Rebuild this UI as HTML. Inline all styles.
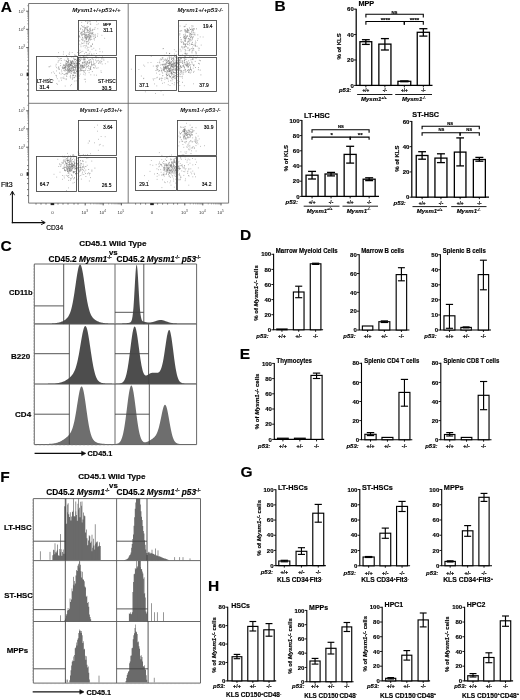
<!DOCTYPE html>
<html><head><meta charset="utf-8"><style>
html,body{margin:0;padding:0;background:#fff;width:520px;height:700px;overflow:hidden}
svg{display:block}
text{font-family:"Liberation Sans",sans-serif;stroke:#000;stroke-width:0.16px}
text[fill]{stroke:none}
.b{font-weight:bold}
.bi{font-weight:bold;font-style:italic}
.tk{font-weight:bold}
.xl{font-weight:bold}
.yl{font-weight:bold}
</style></head><body>
<svg width="520" height="700" viewBox="0 0 520 700">
<defs><filter id="bl" filterUnits="userSpaceOnUse" x="-5" y="-5" width="530" height="710"><feGaussianBlur stdDeviation="0.45"/></filter></defs>
<rect width="520" height="700" fill="#fff"/>
<g filter="url(#bl)">
<path d="M28.6 3.5H228.6V203.1H28.6Z" stroke="#6a6a6a" stroke-width="0.9" fill="none"/>
<path d="M28.6 103.3L228.6 103.3" stroke="#6a6a6a" stroke-width="0.9"/>
<path d="M128.2 3.5L128.2 203.1" stroke="#6a6a6a" stroke-width="0.9"/>
<path d="M26.2 11.2L28.6 11.2" stroke="#444" stroke-width="0.9"/>
<text x="25" y="12.8" font-size="4.4" text-anchor="end" fill="#333">10<tspan font-size="3.0" dy="-2.0">5</tspan></text>
<path d="M26.2 29.3L28.6 29.3" stroke="#444" stroke-width="0.9"/>
<text x="25" y="30.9" font-size="4.4" text-anchor="end" fill="#333">10<tspan font-size="3.0" dy="-2.0">4</tspan></text>
<path d="M26.2 47.6L28.6 47.6" stroke="#444" stroke-width="0.9"/>
<text x="25" y="49.2" font-size="4.4" text-anchor="end" fill="#333">10<tspan font-size="3.0" dy="-2.0">3</tspan></text>
<path d="M27.3 5.72L28.6 5.72" stroke="#777" stroke-width="0.7"/>
<path d="M27.3 23.82L28.6 23.82" stroke="#777" stroke-width="0.7"/>
<path d="M27.3 20.62L28.6 20.62" stroke="#777" stroke-width="0.7"/>
<path d="M27.3 18.34L28.6 18.34" stroke="#777" stroke-width="0.7"/>
<path d="M27.3 16.58L28.6 16.58" stroke="#777" stroke-width="0.7"/>
<path d="M27.3 15.14L28.6 15.14" stroke="#777" stroke-width="0.7"/>
<path d="M27.3 13.92L28.6 13.92" stroke="#777" stroke-width="0.7"/>
<path d="M27.3 12.86L28.6 12.86" stroke="#777" stroke-width="0.7"/>
<path d="M27.3 11.93L28.6 11.93" stroke="#777" stroke-width="0.7"/>
<path d="M27.3 42.12L28.6 42.12" stroke="#777" stroke-width="0.7"/>
<path d="M27.3 38.92L28.6 38.92" stroke="#777" stroke-width="0.7"/>
<path d="M27.3 36.64L28.6 36.64" stroke="#777" stroke-width="0.7"/>
<path d="M27.3 34.88L28.6 34.88" stroke="#777" stroke-width="0.7"/>
<path d="M27.3 33.44L28.6 33.44" stroke="#777" stroke-width="0.7"/>
<path d="M27.3 32.22L28.6 32.22" stroke="#777" stroke-width="0.7"/>
<path d="M27.3 31.16L28.6 31.16" stroke="#777" stroke-width="0.7"/>
<path d="M27.3 30.23L28.6 30.23" stroke="#777" stroke-width="0.7"/>
<path d="M27.3 60.32L28.6 60.32" stroke="#777" stroke-width="0.7"/>
<path d="M27.3 57.12L28.6 57.12" stroke="#777" stroke-width="0.7"/>
<path d="M27.3 54.84L28.6 54.84" stroke="#777" stroke-width="0.7"/>
<path d="M27.3 53.08L28.6 53.08" stroke="#777" stroke-width="0.7"/>
<path d="M27.3 51.64L28.6 51.64" stroke="#777" stroke-width="0.7"/>
<path d="M27.3 50.42L28.6 50.42" stroke="#777" stroke-width="0.7"/>
<path d="M27.3 49.36L28.6 49.36" stroke="#777" stroke-width="0.7"/>
<path d="M27.3 48.43L28.6 48.43" stroke="#777" stroke-width="0.7"/>
<path d="M27 66L28.6 66" stroke="#555" stroke-width="0.8"/>
<path d="M27 70L28.6 70" stroke="#555" stroke-width="0.8"/>
<path d="M27 74.5L28.6 74.5" stroke="#555" stroke-width="0.8"/>
<path d="M27 79L28.6 79" stroke="#555" stroke-width="0.8"/>
<path d="M27 84L28.6 84" stroke="#555" stroke-width="0.8"/>
<path d="M27 90L28.6 90" stroke="#555" stroke-width="0.8"/>
<path d="M27 96L28.6 96" stroke="#555" stroke-width="0.8"/>
<rect x="26.6" y="72.6" width="2" height="3.6" fill="#222"/>
<text x="22.8" y="76" font-size="4.4" text-anchor="end" fill="#333">0</text>
<path d="M26.2 110.8L28.6 110.8" stroke="#444" stroke-width="0.9"/>
<text x="25" y="112.4" font-size="4.4" text-anchor="end" fill="#333">10<tspan font-size="3.0" dy="-2.0">5</tspan></text>
<path d="M26.2 128.9L28.6 128.9" stroke="#444" stroke-width="0.9"/>
<text x="25" y="130.5" font-size="4.4" text-anchor="end" fill="#333">10<tspan font-size="3.0" dy="-2.0">4</tspan></text>
<path d="M26.2 147.2L28.6 147.2" stroke="#444" stroke-width="0.9"/>
<text x="25" y="148.8" font-size="4.4" text-anchor="end" fill="#333">10<tspan font-size="3.0" dy="-2.0">3</tspan></text>
<path d="M27.3 105.32L28.6 105.32" stroke="#777" stroke-width="0.7"/>
<path d="M27.3 123.42L28.6 123.42" stroke="#777" stroke-width="0.7"/>
<path d="M27.3 120.22L28.6 120.22" stroke="#777" stroke-width="0.7"/>
<path d="M27.3 117.94L28.6 117.94" stroke="#777" stroke-width="0.7"/>
<path d="M27.3 116.18L28.6 116.18" stroke="#777" stroke-width="0.7"/>
<path d="M27.3 114.74L28.6 114.74" stroke="#777" stroke-width="0.7"/>
<path d="M27.3 113.52L28.6 113.52" stroke="#777" stroke-width="0.7"/>
<path d="M27.3 112.46L28.6 112.46" stroke="#777" stroke-width="0.7"/>
<path d="M27.3 111.53L28.6 111.53" stroke="#777" stroke-width="0.7"/>
<path d="M27.3 141.72L28.6 141.72" stroke="#777" stroke-width="0.7"/>
<path d="M27.3 138.52L28.6 138.52" stroke="#777" stroke-width="0.7"/>
<path d="M27.3 136.24L28.6 136.24" stroke="#777" stroke-width="0.7"/>
<path d="M27.3 134.48L28.6 134.48" stroke="#777" stroke-width="0.7"/>
<path d="M27.3 133.04L28.6 133.04" stroke="#777" stroke-width="0.7"/>
<path d="M27.3 131.82L28.6 131.82" stroke="#777" stroke-width="0.7"/>
<path d="M27.3 130.76L28.6 130.76" stroke="#777" stroke-width="0.7"/>
<path d="M27.3 129.83L28.6 129.83" stroke="#777" stroke-width="0.7"/>
<path d="M27.3 159.92L28.6 159.92" stroke="#777" stroke-width="0.7"/>
<path d="M27.3 156.72L28.6 156.72" stroke="#777" stroke-width="0.7"/>
<path d="M27.3 154.44L28.6 154.44" stroke="#777" stroke-width="0.7"/>
<path d="M27.3 152.68L28.6 152.68" stroke="#777" stroke-width="0.7"/>
<path d="M27.3 151.24L28.6 151.24" stroke="#777" stroke-width="0.7"/>
<path d="M27.3 150.02L28.6 150.02" stroke="#777" stroke-width="0.7"/>
<path d="M27.3 148.96L28.6 148.96" stroke="#777" stroke-width="0.7"/>
<path d="M27.3 148.03L28.6 148.03" stroke="#777" stroke-width="0.7"/>
<path d="M27 165.6L28.6 165.6" stroke="#555" stroke-width="0.8"/>
<path d="M27 169.6L28.6 169.6" stroke="#555" stroke-width="0.8"/>
<path d="M27 174.1L28.6 174.1" stroke="#555" stroke-width="0.8"/>
<path d="M27 178.6L28.6 178.6" stroke="#555" stroke-width="0.8"/>
<path d="M27 183.6L28.6 183.6" stroke="#555" stroke-width="0.8"/>
<path d="M27 189.6L28.6 189.6" stroke="#555" stroke-width="0.8"/>
<path d="M27 195.6L28.6 195.6" stroke="#555" stroke-width="0.8"/>
<rect x="26.6" y="172.2" width="2" height="3.6" fill="#222"/>
<text x="22.8" y="175.6" font-size="4.4" text-anchor="end" fill="#333">0</text>
<path d="M85.2 203.1L85.2 205.4" stroke="#444" stroke-width="0.9"/>
<text x="84.7" y="213.8" font-size="4.4" text-anchor="middle" fill="#333">10<tspan font-size="3.0" dy="-2.0">3</tspan></text>
<path d="M103.2 203.1L103.2 205.4" stroke="#444" stroke-width="0.9"/>
<text x="102.7" y="213.8" font-size="4.4" text-anchor="middle" fill="#333">10<tspan font-size="3.0" dy="-2.0">4</tspan></text>
<path d="M121.4 203.1L121.4 205.4" stroke="#444" stroke-width="0.9"/>
<text x="120.9" y="213.8" font-size="4.4" text-anchor="middle" fill="#333">10<tspan font-size="3.0" dy="-2.0">5</tspan></text>
<text x="52.5" y="213.8" font-size="4.4" text-anchor="middle" fill="#333">0</text>
<path d="M36 203.1L36 204.6" stroke="#555" stroke-width="0.8"/>
<path d="M41 203.1L41 204.6" stroke="#555" stroke-width="0.8"/>
<path d="M46 203.1L46 204.6" stroke="#555" stroke-width="0.8"/>
<path d="M52.5 203.1L52.5 204.6" stroke="#555" stroke-width="0.8"/>
<path d="M58 203.1L58 204.6" stroke="#555" stroke-width="0.8"/>
<path d="M63 203.1L63 204.6" stroke="#555" stroke-width="0.8"/>
<path d="M68 203.1L68 204.6" stroke="#555" stroke-width="0.8"/>
<path d="M74 203.1L74 204.6" stroke="#555" stroke-width="0.8"/>
<path d="M78 203.1L78 204.6" stroke="#555" stroke-width="0.8"/>
<rect x="50.6" y="203.1" width="3.6" height="2" fill="#222"/>
<path d="M90.65 203.1L90.65 204.4" stroke="#777" stroke-width="0.7"/>
<path d="M93.84 203.1L93.84 204.4" stroke="#777" stroke-width="0.7"/>
<path d="M96.1 203.1L96.1 204.4" stroke="#777" stroke-width="0.7"/>
<path d="M97.85 203.1L97.85 204.4" stroke="#777" stroke-width="0.7"/>
<path d="M99.28 203.1L99.28 204.4" stroke="#777" stroke-width="0.7"/>
<path d="M100.5 203.1L100.5 204.4" stroke="#777" stroke-width="0.7"/>
<path d="M101.55 203.1L101.55 204.4" stroke="#777" stroke-width="0.7"/>
<path d="M102.47 203.1L102.47 204.4" stroke="#777" stroke-width="0.7"/>
<path d="M108.65 203.1L108.65 204.4" stroke="#777" stroke-width="0.7"/>
<path d="M111.84 203.1L111.84 204.4" stroke="#777" stroke-width="0.7"/>
<path d="M114.1 203.1L114.1 204.4" stroke="#777" stroke-width="0.7"/>
<path d="M115.85 203.1L115.85 204.4" stroke="#777" stroke-width="0.7"/>
<path d="M117.28 203.1L117.28 204.4" stroke="#777" stroke-width="0.7"/>
<path d="M118.5 203.1L118.5 204.4" stroke="#777" stroke-width="0.7"/>
<path d="M119.55 203.1L119.55 204.4" stroke="#777" stroke-width="0.7"/>
<path d="M120.47 203.1L120.47 204.4" stroke="#777" stroke-width="0.7"/>
<path d="M184.8 203.1L184.8 205.4" stroke="#444" stroke-width="0.9"/>
<text x="184.3" y="213.8" font-size="4.4" text-anchor="middle" fill="#333">10<tspan font-size="3.0" dy="-2.0">3</tspan></text>
<path d="M202.8 203.1L202.8 205.4" stroke="#444" stroke-width="0.9"/>
<text x="202.3" y="213.8" font-size="4.4" text-anchor="middle" fill="#333">10<tspan font-size="3.0" dy="-2.0">4</tspan></text>
<path d="M221 203.1L221 205.4" stroke="#444" stroke-width="0.9"/>
<text x="220.5" y="213.8" font-size="4.4" text-anchor="middle" fill="#333">10<tspan font-size="3.0" dy="-2.0">5</tspan></text>
<text x="152.1" y="213.8" font-size="4.4" text-anchor="middle" fill="#333">0</text>
<path d="M135.6 203.1L135.6 204.6" stroke="#555" stroke-width="0.8"/>
<path d="M140.6 203.1L140.6 204.6" stroke="#555" stroke-width="0.8"/>
<path d="M145.6 203.1L145.6 204.6" stroke="#555" stroke-width="0.8"/>
<path d="M152.1 203.1L152.1 204.6" stroke="#555" stroke-width="0.8"/>
<path d="M157.6 203.1L157.6 204.6" stroke="#555" stroke-width="0.8"/>
<path d="M162.6 203.1L162.6 204.6" stroke="#555" stroke-width="0.8"/>
<path d="M167.6 203.1L167.6 204.6" stroke="#555" stroke-width="0.8"/>
<path d="M173.6 203.1L173.6 204.6" stroke="#555" stroke-width="0.8"/>
<path d="M177.6 203.1L177.6 204.6" stroke="#555" stroke-width="0.8"/>
<rect x="150.2" y="203.1" width="3.6" height="2" fill="#222"/>
<path d="M190.25 203.1L190.25 204.4" stroke="#777" stroke-width="0.7"/>
<path d="M193.44 203.1L193.44 204.4" stroke="#777" stroke-width="0.7"/>
<path d="M195.7 203.1L195.7 204.4" stroke="#777" stroke-width="0.7"/>
<path d="M197.45 203.1L197.45 204.4" stroke="#777" stroke-width="0.7"/>
<path d="M198.88 203.1L198.88 204.4" stroke="#777" stroke-width="0.7"/>
<path d="M200.1 203.1L200.1 204.4" stroke="#777" stroke-width="0.7"/>
<path d="M201.15 203.1L201.15 204.4" stroke="#777" stroke-width="0.7"/>
<path d="M202.07 203.1L202.07 204.4" stroke="#777" stroke-width="0.7"/>
<path d="M208.25 203.1L208.25 204.4" stroke="#777" stroke-width="0.7"/>
<path d="M211.44 203.1L211.44 204.4" stroke="#777" stroke-width="0.7"/>
<path d="M213.7 203.1L213.7 204.4" stroke="#777" stroke-width="0.7"/>
<path d="M215.45 203.1L215.45 204.4" stroke="#777" stroke-width="0.7"/>
<path d="M216.88 203.1L216.88 204.4" stroke="#777" stroke-width="0.7"/>
<path d="M218.1 203.1L218.1 204.4" stroke="#777" stroke-width="0.7"/>
<path d="M219.15 203.1L219.15 204.4" stroke="#777" stroke-width="0.7"/>
<path d="M220.07 203.1L220.07 204.4" stroke="#777" stroke-width="0.7"/>
<path d="M81.4 35.0h.01M89.9 32.2h.01M81.5 32.8h.01M86.5 39.7h.01M83.1 26.8h.01M88.0 36.8h.01M90.3 39.9h.01M85.9 32.6h.01M95.1 34.4h.01M84.4 27.9h.01M86.2 34.8h.01M84.9 33.5h.01M86.2 37.6h.01M89.6 35.8h.01M79.2 36.2h.01M81.3 32.2h.01M80.9 33.0h.01M83.1 34.5h.01M97.4 36.1h.01M90.2 28.1h.01M84.4 37.0h.01M85.3 35.7h.01M87.4 29.1h.01M88.7 30.4h.01M92.9 32.8h.01M88.4 34.5h.01M89.9 31.7h.01M89.5 34.1h.01M89.7 37.9h.01M87.3 30.3h.01M88.2 36.8h.01M92.0 33.3h.01M87.4 36.9h.01M86.8 35.2h.01M87.2 31.2h.01M82.9 31.4h.01M86.5 41.8h.01M88.3 39.8h.01M88.0 38.0h.01M85.9 37.9h.01M92.4 33.6h.01M81.7 43.1h.01M85.9 38.9h.01M90.1 29.0h.01M92.6 44.4h.01M85.9 37.8h.01M87.3 29.8h.01M85.2 35.8h.01M89.1 38.3h.01M84.9 40.7h.01M82.6 37.4h.01M90.1 33.3h.01M80.8 28.3h.01M86.3 36.8h.01M92.3 30.2h.01M85.4 37.2h.01M87.8 22.3h.01M86.5 45.9h.01M90.4 30.2h.01M84.4 34.8h.01M93.9 38.8h.01M84.8 41.7h.01M83.9 43.1h.01M84.1 31.2h.01M87.1 41.5h.01M87.9 35.9h.01M80.5 29.2h.01M84.4 31.0h.01M88.3 32.8h.01M88.6 35.0h.01M84.7 34.3h.01M86.6 38.5h.01M84.6 32.5h.01M79.7 40.9h.01M91.2 34.1h.01M85.6 27.6h.01M86.4 35.1h.01M93.2 36.7h.01M85.8 21.5h.01M90.6 35.9h.01M80.3 33.8h.01M89.3 37.6h.01M87.5 23.4h.01M87.1 26.3h.01M90.2 23.9h.01M81.7 39.3h.01M92.8 29.4h.01M79.9 37.2h.01M89.9 29.8h.01M84.3 30.1h.01M82.6 29.8h.01M89.6 38.2h.01M93.1 35.0h.01M86.5 29.1h.01M86.9 27.5h.01M79.2 36.2h.01M90.1 39.1h.01M90.3 36.2h.01M83.5 33.9h.01M85.8 28.3h.01M81.7 25.6h.01M85.8 34.7h.01M83.0 40.7h.01M86.0 37.0h.01M91.0 30.8h.01M82.3 39.9h.01M86.2 39.2h.01M90.7 24.3h.01M89.1 31.2h.01M83.8 31.3h.01" stroke="#7a7a7a" stroke-width="0.75" stroke-linecap="round" opacity="1"/>
<path d="M90.9 46.7h.01M96.9 24.6h.01M86.3 43.2h.01M83.1 39.2h.01M87.6 47.2h.01M84.7 29.7h.01M80.4 52.5h.01M94.6 38.2h.01M89.1 39.3h.01M89.6 36.4h.01M88.3 26.5h.01M81.3 51.8h.01M91.0 39.2h.01M86.6 38.3h.01M91.2 32.7h.01M88.7 40.4h.01M85.0 30.1h.01M84.0 27.4h.01M87.5 32.3h.01M84.2 38.1h.01M94.5 40.0h.01M88.3 32.4h.01M85.6 45.9h.01M87.7 27.4h.01M82.5 26.7h.01M90.5 36.3h.01M97.8 33.9h.01M91.0 46.0h.01M81.7 22.4h.01M80.9 44.9h.01M97.8 28.7h.01M94.9 35.9h.01M86.7 32.7h.01M89.3 21.6h.01M84.3 25.9h.01M104.7 38.3h.01M92.7 32.3h.01M92.5 43.8h.01M79.4 31.4h.01M86.6 37.9h.01M89.4 35.2h.01M90.2 33.1h.01M80.0 50.3h.01M89.3 42.3h.01M95.1 27.6h.01M95.2 35.9h.01M90.6 37.3h.01M87.1 48.9h.01M82.8 51.3h.01M85.1 28.8h.01M94.1 29.4h.01M84.2 45.6h.01M98.3 23.8h.01M87.6 55.2h.01M95.5 37.3h.01M85.0 34.7h.01M81.7 34.3h.01M87.2 36.5h.01M95.4 37.4h.01M82.5 32.8h.01M87.8 34.8h.01M82.5 34.6h.01M101.9 35.3h.01M85.2 47.8h.01M91.0 45.6h.01M96.6 21.7h.01M82.7 38.1h.01M88.6 50.0h.01M91.2 36.5h.01M88.6 36.2h.01M88.2 44.2h.01M87.5 30.4h.01M81.0 46.7h.01M93.8 48.3h.01M91.5 46.4h.01M86.8 43.9h.01M82.2 35.0h.01M82.4 43.5h.01M84.8 36.4h.01M87.9 50.4h.01M85.0 28.8h.01M94.8 29.2h.01M91.7 33.5h.01M90.6 21.8h.01M93.1 34.4h.01M79.0 55.2h.01M91.0 35.4h.01M85.8 52.3h.01M87.0 41.9h.01M92.7 30.6h.01M89.7 33.7h.01M79.1 44.2h.01M91.8 39.5h.01M91.0 37.7h.01M79.1 36.0h.01M88.2 41.3h.01M89.0 39.8h.01M82.0 33.3h.01M85.4 35.3h.01M88.5 43.8h.01M90.7 36.7h.01M99.7 48.9h.01M83.2 46.1h.01M82.0 35.8h.01M87.4 37.0h.01M87.9 21.1h.01M88.9 47.4h.01M89.4 28.9h.01M88.2 43.2h.01M87.0 37.7h.01" stroke="#9a9a9a" stroke-width="0.75" stroke-linecap="round" opacity="1"/>
<path d="M76.4 60.6h.01M66.1 60.5h.01M66.8 65.2h.01M65.6 65.8h.01M79.4 63.6h.01M73.1 75.6h.01M68.7 60.5h.01M71.8 62.8h.01M77.4 59.8h.01M66.3 61.7h.01M70.3 63.0h.01M70.2 65.7h.01M69.2 71.5h.01M75.5 65.9h.01M65.4 64.2h.01M75.1 75.7h.01M67.9 64.7h.01M66.4 63.8h.01M66.1 67.7h.01M77.8 64.9h.01M66.7 61.6h.01M72.0 66.6h.01M63.9 64.7h.01M72.0 70.9h.01M74.2 66.9h.01M69.8 68.7h.01M73.5 75.3h.01M65.2 67.3h.01M76.7 64.1h.01M77.8 64.7h.01M71.3 65.4h.01M63.3 65.3h.01M82.3 66.2h.01M75.0 69.7h.01M74.9 70.1h.01M69.5 66.5h.01M75.3 64.2h.01M64.4 68.1h.01M69.1 70.1h.01M66.3 64.0h.01M71.2 73.4h.01M71.0 67.7h.01M71.4 68.1h.01M77.1 71.0h.01M64.8 74.6h.01M70.6 65.8h.01M82.3 62.8h.01M81.4 67.8h.01M66.7 70.4h.01M74.4 65.4h.01M59.5 69.1h.01M68.8 63.1h.01M79.4 63.4h.01M68.8 66.4h.01M66.3 65.2h.01M71.8 68.1h.01M68.5 67.4h.01M65.0 71.0h.01M67.7 68.9h.01M66.1 66.4h.01M70.6 62.1h.01M82.8 63.2h.01M69.8 64.3h.01M80.3 69.9h.01M70.8 61.3h.01M69.3 70.1h.01M67.2 63.2h.01M64.4 65.8h.01M70.3 64.5h.01M74.4 77.6h.01M78.2 60.4h.01M72.7 66.8h.01M71.6 71.2h.01M69.0 66.2h.01M69.1 67.2h.01M78.1 68.1h.01M64.1 67.3h.01M68.2 71.3h.01M73.1 70.1h.01M68.4 59.8h.01M73.4 67.2h.01M71.9 61.3h.01M70.6 64.3h.01M68.1 69.4h.01M71.6 63.1h.01M59.9 60.1h.01M69.6 72.1h.01M68.1 58.5h.01M67.4 69.9h.01M80.4 69.0h.01M73.0 67.2h.01M65.4 66.8h.01M68.5 64.5h.01M70.8 65.4h.01M74.3 72.0h.01M75.0 67.5h.01M68.1 61.5h.01M71.1 69.2h.01M67.7 73.3h.01M69.8 68.9h.01M67.9 62.7h.01M79.5 59.5h.01M74.7 63.5h.01M71.4 63.5h.01M70.1 71.1h.01M79.3 60.9h.01M72.2 70.6h.01M68.8 70.6h.01M68.0 70.5h.01M74.5 71.0h.01M71.3 61.9h.01M72.9 61.8h.01M76.4 71.7h.01M73.2 64.0h.01M76.9 65.9h.01M64.6 67.5h.01M77.4 63.7h.01M71.2 65.5h.01M62.3 67.5h.01M72.9 67.3h.01M67.6 59.1h.01M77.7 67.9h.01M77.4 70.5h.01M68.2 65.3h.01M74.5 72.9h.01M62.7 68.6h.01M68.2 70.2h.01M77.6 63.7h.01M65.1 69.0h.01M67.8 61.5h.01M74.6 63.7h.01M72.7 61.0h.01M74.5 59.9h.01M73.9 58.5h.01M77.1 63.5h.01M63.3 68.4h.01M71.4 62.7h.01M69.0 68.8h.01M66.6 55.5h.01M69.5 69.3h.01M73.6 70.4h.01M70.7 77.8h.01M75.2 67.0h.01M77.3 69.0h.01M70.8 64.5h.01M76.4 67.1h.01M60.7 65.6h.01M73.4 66.7h.01M73.1 69.0h.01M73.6 72.8h.01M67.7 66.3h.01M73.4 69.4h.01M76.5 71.5h.01M70.1 72.2h.01M72.0 62.3h.01M72.8 75.2h.01M74.2 64.0h.01M58.7 67.7h.01M67.7 68.3h.01M82.9 66.4h.01M71.4 63.0h.01M65.1 68.0h.01M72.3 79.2h.01M68.3 65.2h.01M76.5 65.6h.01M66.6 73.8h.01M67.9 62.4h.01M73.1 68.4h.01M70.2 70.2h.01M73.9 62.4h.01M58.3 60.9h.01M71.8 71.9h.01M77.4 70.8h.01M79.9 64.3h.01M74.2 59.6h.01M74.8 67.5h.01M70.0 65.4h.01M65.8 69.2h.01M76.7 63.7h.01M72.8 63.7h.01M71.0 62.8h.01M72.5 65.6h.01M71.8 64.2h.01M65.0 67.5h.01M77.8 71.5h.01M70.4 70.5h.01M75.1 67.4h.01M64.0 70.5h.01M67.8 72.9h.01M75.5 68.2h.01M59.6 73.1h.01M72.8 61.1h.01M75.7 65.9h.01M69.3 64.5h.01M65.6 66.8h.01M86.0 63.2h.01M71.2 64.2h.01M67.4 65.8h.01M67.8 71.7h.01M70.7 70.7h.01" stroke="#707070" stroke-width="0.75" stroke-linecap="round" opacity="1"/>
<path d="M62.1 77.9h.01M73.3 72.2h.01M68.8 60.6h.01M83.7 59.7h.01M68.4 60.7h.01M73.2 63.4h.01M75.8 68.7h.01M61.4 58.5h.01M78.7 72.6h.01M76.6 56.0h.01M79.3 68.0h.01M76.0 69.4h.01M69.1 69.7h.01M80.5 60.1h.01M56.6 70.9h.01M69.7 52.3h.01M66.3 73.7h.01M70.6 68.2h.01M60.9 78.0h.01M90.0 59.8h.01M61.6 60.5h.01M81.6 64.9h.01M66.5 78.9h.01M81.5 69.1h.01M53.3 71.9h.01M75.7 55.6h.01M85.1 74.9h.01M81.2 58.1h.01M66.8 76.5h.01M85.4 73.2h.01M84.4 62.3h.01M63.3 54.2h.01M85.6 81.8h.01M66.0 64.9h.01M79.7 67.7h.01M55.9 66.0h.01M65.2 86.0h.01M66.5 75.9h.01M96.6 75.2h.01M90.8 74.8h.01M58.2 68.4h.01M63.7 67.1h.01M74.9 55.7h.01M89.1 72.6h.01M71.5 84.5h.01M75.9 76.7h.01M73.9 61.7h.01M67.7 67.3h.01M78.8 66.0h.01M96.3 57.9h.01M65.4 63.0h.01M60.4 58.5h.01M63.8 77.1h.01M72.2 65.5h.01M78.2 74.0h.01M80.3 70.9h.01M65.5 66.8h.01M63.6 68.8h.01M62.5 66.8h.01M69.7 65.9h.01M68.0 64.1h.01M85.0 60.1h.01M61.8 71.8h.01M58.0 62.3h.01M68.9 54.0h.01M38.8 79.7h.01M78.9 50.9h.01M63.9 74.3h.01M49.1 66.8h.01M58.9 69.4h.01M53.4 80.3h.01M71.2 69.8h.01M63.5 51.9h.01M67.2 57.2h.01M70.1 60.5h.01M68.2 66.4h.01M81.9 70.4h.01M61.4 70.1h.01M88.5 66.0h.01M64.0 68.4h.01M70.6 75.3h.01M73.2 69.8h.01M92.0 49.3h.01M57.3 57.1h.01M57.3 78.7h.01M78.9 78.5h.01M49.2 66.7h.01M89.6 70.2h.01M83.4 70.8h.01M72.3 66.8h.01M74.3 73.3h.01M71.0 70.0h.01M84.6 53.7h.01M65.5 73.8h.01M68.9 66.7h.01M95.0 63.4h.01M70.2 76.7h.01M95.8 50.3h.01M65.2 70.1h.01M70.5 85.7h.01M76.6 62.2h.01M75.3 59.3h.01M65.9 69.8h.01M79.6 76.0h.01M84.3 79.3h.01M77.1 66.7h.01M68.6 60.9h.01M86.4 52.6h.01M69.5 63.4h.01M58.5 52.6h.01M68.3 69.3h.01M75.5 73.0h.01M68.8 62.6h.01M76.8 71.1h.01M58.9 58.3h.01M63.7 78.4h.01M80.4 57.0h.01M75.2 73.0h.01M84.4 57.6h.01M72.8 78.5h.01M101.0 70.9h.01M61.1 74.1h.01M68.7 67.5h.01M63.9 65.5h.01M76.2 80.8h.01M80.4 68.0h.01M70.5 61.2h.01M72.5 77.2h.01M85.4 79.3h.01M74.7 66.0h.01M55.9 75.3h.01M57.5 84.3h.01M65.4 69.1h.01M56.6 67.6h.01M64.9 78.7h.01M71.8 57.2h.01M51.5 72.8h.01M64.3 60.1h.01M77.8 63.7h.01M71.8 62.1h.01M64.9 65.3h.01M56.6 77.0h.01M72.2 52.5h.01M75.8 75.5h.01M77.6 76.1h.01M69.2 67.9h.01M56.2 64.3h.01M50.7 66.1h.01M75.8 70.2h.01M84.5 64.2h.01M62.6 73.5h.01M74.7 81.1h.01M94.8 68.0h.01M58.8 66.7h.01M72.3 60.9h.01M79.1 70.5h.01M81.3 66.0h.01M60.7 63.4h.01M73.8 77.5h.01M90.9 69.4h.01M77.4 71.0h.01M83.7 74.2h.01M77.4 52.5h.01M82.9 66.8h.01M68.4 72.5h.01M74.9 65.6h.01M54.5 73.3h.01M77.7 64.8h.01M56.4 75.7h.01M80.0 66.0h.01M75.6 62.9h.01M66.3 73.1h.01M68.7 69.5h.01M107.9 61.9h.01M69.6 54.2h.01M74.8 72.5h.01M64.0 67.5h.01M49.6 78.6h.01M67.4 74.2h.01M86.0 61.3h.01M82.9 65.7h.01M69.2 65.5h.01M66.1 79.6h.01M78.9 56.5h.01M79.1 58.7h.01M59.0 81.1h.01M61.4 80.2h.01M76.2 73.2h.01M80.1 74.2h.01M77.0 70.3h.01M77.2 74.6h.01M70.3 76.0h.01M87.7 61.6h.01M75.4 61.6h.01M69.6 69.9h.01M66.3 61.3h.01M72.1 68.6h.01M77.1 71.4h.01M56.7 83.6h.01M68.4 61.7h.01" stroke="#9a9a9a" stroke-width="0.75" stroke-linecap="round" opacity="1"/>
<path d="M83.8 65.2h.01M91.2 61.2h.01M86.9 55.0h.01M87.0 62.4h.01M83.4 67.4h.01M96.8 68.2h.01M81.3 70.6h.01M84.0 62.8h.01M82.5 65.3h.01M89.3 63.7h.01M84.7 62.3h.01M83.6 67.9h.01M82.9 62.3h.01M84.7 59.3h.01M84.6 55.7h.01M88.4 65.7h.01M84.2 70.8h.01M81.1 65.8h.01M88.9 60.3h.01M84.6 67.4h.01M86.4 64.4h.01M94.4 64.1h.01M76.0 59.3h.01M91.0 62.4h.01M79.6 53.2h.01M87.9 70.5h.01M78.5 52.2h.01M89.0 60.3h.01M84.2 61.4h.01M80.6 65.2h.01M91.5 64.8h.01M82.7 68.2h.01M85.3 65.9h.01M80.4 66.3h.01M90.4 69.4h.01M86.2 65.2h.01M82.6 67.4h.01M90.6 68.4h.01M83.7 56.9h.01M85.6 62.0h.01M81.6 66.0h.01M91.6 65.0h.01M92.6 65.0h.01M80.2 60.1h.01M83.9 66.4h.01M91.5 63.7h.01M92.0 58.9h.01M85.3 70.4h.01M88.6 68.2h.01M74.8 54.8h.01M80.9 68.0h.01M95.6 60.0h.01M80.2 58.0h.01M80.7 65.8h.01M84.2 72.3h.01M90.3 59.6h.01M87.4 62.3h.01M90.7 67.5h.01M84.0 67.4h.01M89.4 62.6h.01M87.5 66.4h.01M84.1 59.7h.01M93.5 63.0h.01M82.5 65.3h.01M77.3 63.3h.01M78.0 60.9h.01M75.5 59.5h.01M91.3 62.1h.01M78.9 71.6h.01M82.3 70.3h.01M82.9 55.8h.01M96.9 60.9h.01M90.5 68.9h.01M78.3 63.4h.01M82.6 66.0h.01M86.0 56.8h.01M86.4 66.8h.01M84.3 65.8h.01M82.9 62.8h.01M88.1 63.7h.01M93.5 67.7h.01M91.0 66.6h.01M87.0 57.3h.01M92.3 71.6h.01M87.4 61.8h.01M85.8 68.9h.01M87.7 58.2h.01M85.0 59.3h.01M84.9 58.7h.01M80.9 70.3h.01M92.2 55.2h.01M80.3 60.9h.01M83.8 56.3h.01M91.3 55.2h.01M90.1 66.4h.01M83.9 59.8h.01M86.4 63.8h.01M73.7 56.9h.01M89.2 62.5h.01M83.6 58.2h.01M81.9 59.3h.01M102.4 56.9h.01M95.0 65.4h.01M87.3 64.0h.01M83.8 70.9h.01M89.0 62.9h.01M85.3 64.0h.01M79.4 61.5h.01M82.4 66.1h.01M89.6 53.9h.01" stroke="#808080" stroke-width="0.75" stroke-linecap="round" opacity="1"/>
<path d="M95.5 66.8h.01M88.2 54.1h.01M103.9 60.3h.01M94.0 53.9h.01M98.2 57.8h.01M98.5 63.5h.01M101.9 59.1h.01M93.5 61.2h.01M96.4 62.1h.01M93.4 59.7h.01M93.0 57.6h.01M98.1 67.8h.01M93.4 64.5h.01M99.4 61.7h.01M101.7 57.8h.01M100.9 62.8h.01M73.2 63.1h.01M101.2 72.5h.01M89.8 61.6h.01M99.5 55.4h.01M105.3 63.7h.01M91.6 54.0h.01M94.2 75.0h.01M84.6 65.0h.01M96.3 57.3h.01M101.2 61.6h.01M99.0 62.6h.01M89.6 68.8h.01M93.9 67.7h.01M101.8 61.3h.01M98.0 60.8h.01M84.4 59.1h.01M100.0 51.6h.01M86.8 67.4h.01M102.6 51.9h.01M100.2 60.8h.01M103.8 59.1h.01M95.5 56.6h.01M98.3 60.3h.01M92.5 59.0h.01M91.9 64.7h.01M90.0 51.9h.01M90.4 67.4h.01M93.6 64.9h.01M102.1 58.0h.01M102.2 64.0h.01M96.7 56.9h.01M96.6 53.5h.01M95.1 57.6h.01M100.1 63.1h.01" stroke="#9a9a9a" stroke-width="0.75" stroke-linecap="round" opacity="1"/>
<path d="M184.8 40.6h.01M192.0 37.2h.01M184.9 38.5h.01M180.4 31.0h.01M187.6 48.0h.01M183.7 44.4h.01M193.7 48.6h.01M187.5 42.0h.01M188.1 32.3h.01M185.5 44.6h.01M191.2 34.9h.01M188.3 41.3h.01M190.0 36.2h.01M186.7 31.3h.01M187.2 32.5h.01M184.3 26.7h.01M192.3 30.1h.01M183.6 34.9h.01M191.4 44.4h.01M187.8 29.7h.01M187.3 30.3h.01M185.6 38.4h.01M185.3 30.7h.01M187.2 35.7h.01M186.3 30.9h.01M185.0 30.8h.01M190.1 35.0h.01M188.8 30.9h.01M181.0 41.7h.01M192.7 50.2h.01M185.4 35.7h.01M192.1 29.4h.01M194.8 33.0h.01M190.6 29.5h.01M189.3 36.2h.01M193.1 30.0h.01M185.8 46.7h.01M183.5 37.2h.01M190.1 33.4h.01M185.4 44.1h.01M191.2 40.1h.01M190.3 29.5h.01M186.2 46.6h.01M193.2 28.8h.01M181.7 30.7h.01M189.2 32.9h.01M186.5 37.8h.01M190.8 37.9h.01M194.0 28.5h.01M189.1 38.8h.01M181.4 42.3h.01M184.2 26.4h.01M195.6 45.5h.01M187.7 44.2h.01M193.3 30.2h.01M188.0 44.6h.01M187.4 36.3h.01M185.5 40.0h.01M186.8 32.2h.01M184.9 29.7h.01M188.2 38.9h.01M187.9 29.5h.01M188.7 38.4h.01M193.0 34.0h.01M186.0 38.7h.01M193.3 36.8h.01M188.8 30.4h.01M185.6 41.3h.01M189.6 43.2h.01M181.3 39.8h.01M184.1 38.9h.01M179.9 33.8h.01M183.4 42.9h.01M186.9 43.8h.01M184.1 47.3h.01M184.2 46.9h.01M187.5 29.9h.01M191.6 34.3h.01M189.4 28.0h.01M186.7 36.4h.01M185.1 37.8h.01M184.8 44.4h.01M187.6 31.9h.01M186.1 37.3h.01M190.6 33.7h.01M184.7 38.0h.01M193.0 26.2h.01M185.2 31.3h.01M192.4 44.5h.01M190.2 39.5h.01M182.8 41.9h.01M187.4 31.0h.01M196.5 28.8h.01M192.6 38.2h.01M184.6 36.4h.01M184.9 36.5h.01M187.2 28.5h.01M197.8 34.9h.01M191.5 36.4h.01M191.9 29.0h.01" stroke="#7a7a7a" stroke-width="0.75" stroke-linecap="round" opacity="1"/>
<path d="M195.2 46.2h.01M181.5 47.1h.01M189.8 49.5h.01M192.3 48.7h.01M190.6 37.3h.01M192.0 52.9h.01M185.1 29.5h.01M191.9 25.6h.01M193.5 48.8h.01M201.2 45.1h.01M203.1 37.0h.01M195.2 43.3h.01M183.4 37.1h.01M195.9 52.6h.01M185.8 50.5h.01M193.8 50.2h.01M191.2 44.1h.01M185.2 39.4h.01M192.1 34.6h.01M188.0 42.2h.01M189.4 50.7h.01M184.6 36.3h.01M192.3 38.0h.01M192.8 37.3h.01M197.5 40.4h.01M181.9 46.4h.01M203.4 25.9h.01M189.1 41.5h.01M193.5 55.7h.01M191.9 27.0h.01M192.2 50.9h.01M192.6 42.3h.01M185.6 26.2h.01M195.3 44.8h.01M193.4 45.1h.01M197.5 55.8h.01M184.9 49.3h.01M186.1 24.4h.01M198.0 38.7h.01M185.2 44.8h.01M191.1 34.1h.01M184.4 47.0h.01M184.3 41.1h.01M183.3 43.9h.01M199.6 48.3h.01M195.8 46.4h.01M184.9 37.2h.01M189.7 45.1h.01M185.3 45.8h.01M185.6 40.8h.01M192.0 30.8h.01M195.9 42.7h.01M190.7 40.9h.01M180.1 26.0h.01M182.9 48.8h.01M185.5 45.8h.01M185.4 32.3h.01M185.3 49.9h.01M180.5 37.5h.01M192.2 42.8h.01M188.5 48.0h.01M193.6 32.4h.01M195.2 34.9h.01M185.4 53.6h.01M194.0 34.7h.01M182.5 55.0h.01M194.5 29.1h.01M198.3 48.1h.01M197.1 46.3h.01M189.5 39.4h.01M200.2 36.9h.01M189.5 40.4h.01M191.4 31.7h.01M192.4 39.7h.01M193.1 31.9h.01M191.8 32.4h.01M183.4 42.8h.01M192.7 47.0h.01M190.5 37.6h.01M196.1 53.8h.01M188.2 30.6h.01M191.6 44.3h.01M179.1 31.1h.01M189.7 50.2h.01M179.8 35.0h.01M196.0 55.3h.01M188.5 41.1h.01M184.1 43.5h.01M180.9 39.7h.01M180.2 49.3h.01M195.8 51.5h.01M191.9 51.9h.01M190.0 49.1h.01M191.4 48.6h.01M185.2 34.0h.01M182.6 47.2h.01M194.4 34.7h.01M185.2 34.7h.01M195.4 41.1h.01M189.8 34.6h.01" stroke="#9a9a9a" stroke-width="0.75" stroke-linecap="round" opacity="1"/>
<path d="M171.8 74.9h.01M166.2 66.3h.01M179.3 68.0h.01M166.2 74.0h.01M164.8 71.6h.01M156.4 66.0h.01M173.6 62.8h.01M166.6 68.4h.01M169.4 64.8h.01M169.5 76.7h.01M177.7 66.4h.01M163.7 66.2h.01M169.4 69.8h.01M177.0 62.1h.01M170.1 64.7h.01M169.7 63.5h.01M173.6 72.0h.01M167.7 66.0h.01M168.6 60.5h.01M176.8 57.9h.01M167.0 63.3h.01M176.5 62.5h.01M170.4 76.9h.01M168.3 63.5h.01M170.3 68.0h.01M166.2 67.3h.01M170.1 70.8h.01M175.0 69.9h.01M170.6 71.0h.01M170.8 72.9h.01M171.4 64.4h.01M173.7 57.9h.01M164.2 64.6h.01M167.6 61.3h.01M161.5 59.7h.01M169.5 63.2h.01M181.7 67.5h.01M166.5 75.1h.01M172.2 72.0h.01M166.4 74.3h.01M174.7 63.4h.01M165.4 66.5h.01M174.9 78.2h.01M181.0 71.5h.01M168.5 65.8h.01M171.4 65.2h.01M167.5 66.7h.01M174.0 65.4h.01M170.8 65.4h.01M168.6 65.7h.01M176.5 66.3h.01M177.0 64.0h.01M173.1 58.8h.01M168.0 67.3h.01M166.8 67.4h.01M165.4 67.6h.01M166.8 68.0h.01M167.1 62.7h.01M168.1 67.8h.01M164.1 69.4h.01M175.7 64.1h.01M173.6 69.2h.01M168.2 74.6h.01M180.6 58.4h.01M179.3 60.4h.01M174.4 56.2h.01M175.7 66.0h.01M162.7 65.0h.01M163.7 64.3h.01M171.6 65.6h.01M157.5 69.3h.01M172.4 66.8h.01M175.4 55.7h.01M171.3 66.8h.01M171.5 59.5h.01M163.5 68.2h.01M167.7 58.2h.01M171.8 66.5h.01M169.7 53.4h.01M171.1 62.0h.01M168.9 71.5h.01M178.4 65.2h.01M171.5 73.5h.01M165.5 67.6h.01M166.2 63.1h.01M174.0 76.5h.01M172.0 69.1h.01M171.6 72.5h.01M169.6 62.5h.01M172.7 73.8h.01M171.4 72.9h.01M172.7 76.9h.01M172.4 69.8h.01M169.9 71.5h.01M166.8 60.3h.01M169.7 60.8h.01M178.3 68.6h.01M171.2 70.3h.01M159.9 78.3h.01M167.9 71.2h.01M180.0 55.5h.01M168.6 69.3h.01M169.6 58.3h.01M167.8 75.6h.01M168.0 70.6h.01M162.1 64.7h.01M161.7 71.0h.01M175.7 65.8h.01M169.1 68.6h.01M171.9 64.9h.01M175.6 75.6h.01M179.9 61.0h.01M166.8 78.1h.01M176.6 71.4h.01M172.6 65.0h.01M176.4 71.0h.01M174.1 60.1h.01M174.5 63.8h.01M168.9 69.3h.01M171.8 78.7h.01M173.2 67.5h.01M169.5 68.5h.01M169.8 70.2h.01M175.5 69.8h.01M163.5 67.3h.01M168.6 61.0h.01M171.7 65.8h.01M170.9 68.8h.01M169.4 75.4h.01M174.2 62.9h.01M173.4 69.9h.01M165.9 66.5h.01M169.6 53.6h.01M164.2 70.6h.01M171.7 61.7h.01M177.5 76.4h.01M171.0 66.5h.01M168.9 62.1h.01M173.0 67.1h.01M175.8 72.8h.01M170.5 67.9h.01M174.2 74.9h.01M163.1 69.2h.01M167.2 68.6h.01M174.2 66.1h.01M173.9 66.8h.01M165.7 64.9h.01M163.8 70.2h.01M169.4 71.7h.01M173.4 61.3h.01M165.8 71.6h.01M166.2 69.3h.01M172.4 64.3h.01M177.5 60.7h.01M171.5 64.4h.01M156.0 70.5h.01M170.2 70.1h.01M168.4 63.7h.01M167.1 66.3h.01M173.3 64.6h.01M177.3 69.3h.01M168.0 73.1h.01M159.3 70.5h.01M165.2 68.0h.01M175.6 65.3h.01M171.2 73.4h.01M165.2 64.2h.01M175.7 68.5h.01M163.4 69.9h.01M173.6 65.1h.01M168.3 68.3h.01M170.1 63.3h.01M171.7 58.2h.01M172.9 77.4h.01M164.9 68.4h.01M157.9 66.4h.01M164.6 69.0h.01M170.4 76.6h.01M165.6 68.3h.01M172.1 69.8h.01M172.0 58.2h.01M180.1 62.3h.01M164.2 60.2h.01M165.3 59.2h.01M170.1 63.9h.01M170.5 62.8h.01M173.7 77.6h.01M175.9 66.1h.01M167.5 75.5h.01M159.8 62.8h.01M175.4 62.2h.01M177.4 67.8h.01M183.1 72.4h.01M171.9 63.1h.01M175.0 72.9h.01M166.4 53.0h.01M167.7 65.8h.01M169.3 65.4h.01M173.6 59.3h.01M169.2 56.9h.01M158.1 65.4h.01M165.1 63.8h.01M167.6 71.0h.01M172.9 66.5h.01M170.0 63.4h.01M163.2 61.7h.01M166.4 62.2h.01M169.5 71.0h.01M174.6 72.6h.01M162.3 57.9h.01M167.7 78.2h.01M172.7 63.9h.01M175.7 63.1h.01M177.4 62.6h.01M169.1 70.9h.01M164.3 67.9h.01M179.9 66.2h.01M164.4 67.4h.01M168.8 63.4h.01M173.8 72.4h.01" stroke="#707070" stroke-width="0.75" stroke-linecap="round" opacity="1"/>
<path d="M174.2 76.7h.01M175.7 69.5h.01M164.9 79.3h.01M187.1 61.8h.01M162.6 75.7h.01M175.2 78.7h.01M177.6 66.7h.01M156.8 77.8h.01M170.9 57.6h.01M151.2 56.4h.01M178.5 63.7h.01M131.3 69.2h.01M164.3 69.5h.01M171.8 65.9h.01M182.6 76.3h.01M172.2 83.5h.01M168.9 61.6h.01M171.2 56.0h.01M166.6 60.3h.01M167.3 71.8h.01M143.8 78.3h.01M174.7 66.4h.01M181.0 70.3h.01M165.9 61.0h.01M182.0 73.9h.01M153.3 66.1h.01M159.5 79.1h.01M163.0 59.3h.01M190.5 69.4h.01M175.2 70.6h.01M169.9 69.7h.01M183.3 70.8h.01M166.7 70.9h.01M193.0 59.6h.01M156.6 73.1h.01M163.2 94.9h.01M180.3 72.7h.01M179.8 85.5h.01M159.8 70.9h.01M154.5 83.9h.01M174.2 84.8h.01M166.8 60.4h.01M165.0 77.8h.01M162.7 73.2h.01M162.1 64.4h.01M168.2 84.7h.01M159.8 74.4h.01M180.1 60.4h.01M156.8 85.9h.01M192.0 62.6h.01M159.3 79.5h.01M169.9 61.7h.01M163.0 48.7h.01M160.0 60.1h.01M157.3 77.3h.01M178.1 83.3h.01M138.9 69.5h.01M164.3 82.7h.01M184.3 67.5h.01M171.6 62.0h.01M164.9 66.2h.01M145.3 91.8h.01M184.3 85.7h.01M187.3 70.3h.01M178.6 51.9h.01M161.3 78.9h.01M164.4 55.4h.01M169.3 57.5h.01M174.6 82.8h.01M157.5 67.6h.01M178.3 67.3h.01M172.4 60.9h.01M163.4 48.5h.01M172.0 80.8h.01M158.1 69.9h.01M182.4 78.1h.01M184.0 58.2h.01M170.0 85.5h.01M166.7 72.6h.01M160.5 65.0h.01M135.4 71.1h.01M143.7 65.1h.01M162.5 83.3h.01M181.5 70.6h.01M163.0 57.7h.01M175.9 60.3h.01M172.0 77.6h.01M169.4 69.1h.01M161.7 80.6h.01M179.3 73.9h.01M188.1 50.4h.01M173.1 74.5h.01M176.2 70.8h.01M174.5 54.0h.01M172.8 79.4h.01M170.7 67.2h.01M178.6 51.2h.01M179.1 81.5h.01M167.1 62.1h.01M177.1 63.5h.01M162.2 72.3h.01M153.1 78.8h.01M156.4 66.8h.01M180.2 66.8h.01M177.2 80.5h.01M193.5 83.8h.01M166.7 78.4h.01M153.4 80.0h.01M185.9 59.2h.01M178.7 75.2h.01M168.6 63.5h.01M187.2 53.4h.01M175.3 77.0h.01M177.3 82.4h.01M190.2 69.5h.01M194.1 71.3h.01M156.4 68.9h.01M175.2 69.9h.01M155.6 93.5h.01M151.0 62.5h.01M177.4 69.5h.01M190.4 67.1h.01M177.5 74.5h.01M160.6 59.0h.01M168.0 79.1h.01M170.6 80.7h.01M166.5 76.9h.01M173.6 76.3h.01M172.2 70.6h.01M168.4 81.2h.01M172.2 73.4h.01M177.9 59.3h.01M161.7 70.5h.01M185.0 56.3h.01M157.8 62.5h.01M165.1 60.3h.01M162.9 75.6h.01M158.7 71.4h.01M157.3 69.9h.01M174.3 49.7h.01M172.8 70.8h.01M171.5 71.3h.01M174.3 56.3h.01M171.4 74.9h.01M184.7 53.6h.01M162.2 58.1h.01M169.6 59.4h.01M161.4 78.1h.01M194.7 45.1h.01M189.7 56.7h.01M180.5 70.4h.01M186.1 64.1h.01M161.8 70.3h.01M179.5 59.0h.01M176.6 67.8h.01M173.9 68.5h.01M180.4 74.6h.01M167.7 66.5h.01M144.7 66.2h.01M154.9 78.6h.01M157.7 65.3h.01M179.9 76.5h.01M184.7 58.4h.01M176.6 77.9h.01M161.3 68.9h.01M156.1 66.1h.01M180.4 68.0h.01M166.4 64.8h.01M191.2 72.0h.01M161.0 91.2h.01M166.6 68.6h.01M165.0 65.0h.01M176.8 54.5h.01M171.6 65.9h.01M193.2 68.2h.01M177.9 72.6h.01M179.1 68.6h.01M143.5 78.6h.01M169.3 76.0h.01M174.5 63.3h.01M159.4 62.0h.01M175.0 67.3h.01M160.7 67.8h.01M174.8 62.2h.01M169.2 63.8h.01M141.3 76.0h.01M174.0 76.0h.01M186.0 59.4h.01M179.4 69.9h.01M174.3 76.1h.01M179.9 55.6h.01M189.0 63.8h.01M162.7 64.4h.01M167.2 59.5h.01M185.5 70.1h.01M162.7 78.4h.01M174.8 69.1h.01M183.1 65.8h.01M169.7 74.0h.01M148.0 62.7h.01" stroke="#9a9a9a" stroke-width="0.75" stroke-linecap="round" opacity="1"/>
<path d="M189.5 70.4h.01M174.1 64.0h.01M181.3 62.2h.01M190.2 73.0h.01M198.3 69.7h.01M190.4 64.8h.01M172.8 66.3h.01M177.5 57.2h.01M186.8 54.4h.01M198.4 67.6h.01M188.5 66.9h.01M187.6 64.3h.01M190.9 59.9h.01M187.9 65.0h.01M191.4 57.3h.01M187.7 63.2h.01M190.4 67.2h.01M187.2 66.7h.01M189.1 72.2h.01M188.1 67.2h.01M179.4 62.7h.01M191.3 70.3h.01M179.1 63.7h.01M184.0 64.3h.01M182.6 61.4h.01M185.5 64.7h.01M193.1 58.8h.01M179.2 68.7h.01M189.5 62.8h.01M177.8 70.3h.01M178.4 70.8h.01M187.7 63.1h.01M184.7 68.9h.01M186.0 53.5h.01M181.0 51.0h.01M188.8 69.5h.01M193.2 55.8h.01M200.9 74.9h.01M185.2 52.0h.01M179.8 70.2h.01M200.5 60.7h.01M173.0 58.1h.01M199.4 63.9h.01M176.1 51.3h.01M190.4 68.8h.01M182.6 62.8h.01M186.5 61.9h.01M182.1 60.5h.01M181.8 71.4h.01M188.7 70.1h.01M198.9 50.2h.01M185.5 69.7h.01M184.4 60.3h.01M188.7 60.8h.01M180.0 62.1h.01M186.3 64.0h.01M192.2 64.1h.01M182.6 82.3h.01M184.3 62.3h.01M184.9 59.7h.01M174.9 65.1h.01M196.2 53.0h.01M180.6 66.5h.01M181.2 67.1h.01M185.6 57.3h.01M184.4 60.8h.01M188.8 71.9h.01M187.0 65.4h.01M182.2 66.0h.01M184.9 56.2h.01M189.0 65.0h.01M193.6 65.5h.01M190.8 55.9h.01M172.8 60.5h.01M183.6 66.1h.01M185.0 62.9h.01M186.2 65.5h.01M187.3 65.9h.01M182.4 63.4h.01M175.6 57.2h.01M184.0 66.5h.01M180.6 55.5h.01M192.6 58.9h.01M173.9 58.1h.01M183.2 74.1h.01M180.7 59.0h.01M193.9 64.5h.01M185.2 72.1h.01M177.6 63.6h.01M189.5 65.2h.01M177.7 58.3h.01M198.4 63.4h.01M184.1 70.4h.01M173.4 63.6h.01M173.6 72.3h.01M179.0 64.6h.01M179.5 64.7h.01M188.2 64.0h.01M183.7 65.4h.01M184.2 60.9h.01M190.3 69.1h.01M176.5 57.9h.01M180.5 65.7h.01M176.1 73.3h.01M186.2 64.9h.01M192.1 59.5h.01M188.6 66.4h.01M195.0 57.7h.01M195.6 67.5h.01M187.7 70.4h.01M184.2 62.8h.01M191.8 61.9h.01M193.5 72.2h.01M187.5 65.0h.01M181.4 58.5h.01M196.0 57.8h.01M186.6 65.8h.01M179.7 59.9h.01M181.1 76.7h.01M188.6 72.3h.01M200.2 70.1h.01M195.2 61.4h.01M181.2 72.7h.01M196.2 57.9h.01M194.0 65.8h.01M191.6 69.8h.01M199.3 60.3h.01M186.1 71.6h.01M184.3 67.3h.01M185.5 53.9h.01" stroke="#808080" stroke-width="0.75" stroke-linecap="round" opacity="1"/>
<path d="M70.0 170.6h.01M64.8 161.0h.01M68.5 167.4h.01M72.5 166.4h.01M69.7 160.9h.01M66.3 164.2h.01M69.5 168.6h.01M74.3 162.6h.01M76.2 168.4h.01M64.3 165.0h.01M67.7 160.3h.01M72.6 155.1h.01M67.5 171.5h.01M69.0 170.3h.01M68.9 172.1h.01M69.6 170.0h.01M70.4 158.2h.01M63.3 160.8h.01M68.2 171.8h.01M71.9 169.5h.01M77.4 167.4h.01M71.8 163.0h.01M69.5 168.1h.01M75.5 168.7h.01M70.6 164.3h.01M73.5 172.8h.01M75.5 173.4h.01M69.6 170.9h.01M72.6 168.6h.01M68.3 168.8h.01M69.4 165.1h.01M63.0 162.8h.01M70.2 168.9h.01M71.6 166.5h.01M68.4 160.1h.01M74.1 164.3h.01M66.4 165.4h.01M74.1 164.9h.01M68.9 177.5h.01M68.7 175.7h.01M71.0 160.5h.01M77.3 168.7h.01M75.3 166.6h.01M71.8 166.3h.01M68.9 168.2h.01M74.5 163.2h.01M73.8 156.2h.01M67.1 160.2h.01M64.6 170.4h.01M67.9 164.5h.01M66.0 167.2h.01M64.1 168.4h.01M65.7 162.2h.01M67.7 158.0h.01M72.3 166.3h.01M72.4 165.6h.01M72.4 163.5h.01M67.3 169.6h.01M66.7 166.2h.01M68.7 162.2h.01M70.4 158.2h.01M74.4 163.6h.01M78.5 167.2h.01M73.2 165.9h.01M67.7 160.5h.01M66.3 163.5h.01M67.5 166.9h.01M67.8 168.2h.01M68.3 164.7h.01M72.6 167.2h.01M64.9 167.4h.01M80.5 160.6h.01M69.9 161.7h.01M76.9 170.3h.01M72.0 164.5h.01M66.3 158.6h.01M71.6 163.8h.01M72.4 166.8h.01M75.5 173.9h.01M72.0 161.8h.01M73.7 167.4h.01M73.4 171.5h.01M65.2 159.9h.01M67.3 169.6h.01M67.1 168.6h.01M65.8 170.5h.01M67.4 163.0h.01M67.7 166.1h.01M73.9 165.3h.01M69.9 167.1h.01M74.3 166.2h.01M74.8 159.9h.01M73.4 165.0h.01M69.3 169.6h.01M75.2 168.3h.01M70.0 161.7h.01M71.6 167.3h.01M76.3 163.4h.01M74.1 171.9h.01M69.5 164.2h.01M72.9 168.6h.01M67.2 159.2h.01M71.0 170.8h.01M69.5 170.9h.01M69.1 162.6h.01M68.4 156.2h.01M59.6 164.0h.01M71.5 164.0h.01M72.3 164.6h.01M69.6 163.8h.01M71.0 170.7h.01M70.1 159.4h.01M76.6 172.9h.01M70.9 161.0h.01M73.3 165.5h.01M71.2 170.5h.01M73.4 161.7h.01M69.8 164.3h.01M73.7 172.3h.01M69.9 169.1h.01M71.3 165.9h.01M67.7 170.7h.01M68.0 171.0h.01M70.2 166.8h.01M66.8 163.6h.01M66.7 168.1h.01M70.6 167.4h.01M70.9 169.6h.01M71.0 166.3h.01M69.4 166.5h.01M71.0 162.1h.01M66.9 169.9h.01M71.8 165.4h.01M68.3 160.5h.01M66.9 167.9h.01M67.5 161.3h.01M67.8 157.8h.01M72.3 159.6h.01M66.1 163.1h.01M64.9 167.4h.01M63.0 168.3h.01M70.2 164.6h.01M67.1 160.5h.01M61.0 164.4h.01M74.5 165.3h.01M67.6 176.1h.01M74.7 169.1h.01M76.5 169.2h.01M64.5 169.6h.01M71.6 175.1h.01" stroke="#707070" stroke-width="0.75" stroke-linecap="round" opacity="1"/>
<path d="M76.1 165.5h.01M62.6 156.3h.01M69.3 162.6h.01M83.2 167.4h.01M69.5 166.0h.01M77.3 160.7h.01M79.6 165.2h.01M70.6 171.4h.01M78.2 151.8h.01M79.0 169.7h.01M74.4 177.9h.01M77.8 168.9h.01M66.3 175.4h.01M64.1 176.0h.01M83.3 154.5h.01M78.6 155.6h.01M74.2 172.2h.01M62.4 175.5h.01M64.0 167.3h.01M76.9 164.4h.01M74.2 166.7h.01M79.1 176.1h.01M71.3 165.9h.01M73.9 172.3h.01M67.4 153.4h.01M72.3 171.0h.01M87.5 154.6h.01M65.6 162.1h.01M65.0 157.6h.01M65.3 170.8h.01M60.0 172.2h.01M70.8 178.3h.01M89.4 174.9h.01M74.5 171.6h.01M85.6 155.2h.01M80.1 156.1h.01M73.5 154.6h.01M67.9 168.4h.01M63.1 157.2h.01M71.2 165.8h.01M83.6 166.0h.01M56.7 177.1h.01M78.4 163.4h.01M61.9 162.4h.01M65.7 163.8h.01M68.4 167.2h.01M76.9 157.2h.01M70.0 160.1h.01M76.7 173.3h.01M63.4 163.0h.01M71.7 168.1h.01M68.3 173.1h.01M74.1 171.9h.01M64.3 177.9h.01M77.4 158.3h.01M85.9 162.0h.01M58.7 166.5h.01M64.0 166.9h.01M70.7 170.8h.01M68.8 166.9h.01M57.8 159.3h.01M62.3 163.3h.01M70.0 168.9h.01M60.3 166.4h.01M73.8 158.1h.01M70.8 168.7h.01M71.7 157.9h.01M80.0 162.1h.01M73.7 155.6h.01M78.6 163.3h.01M74.6 161.2h.01M77.4 165.0h.01M66.4 190.5h.01M68.2 173.4h.01M68.4 166.0h.01M71.8 175.1h.01M80.9 170.2h.01M62.6 179.3h.01M68.5 187.9h.01M77.8 173.5h.01M71.7 168.9h.01M73.0 183.0h.01M72.7 176.0h.01M65.1 170.3h.01M68.2 168.9h.01M69.9 173.9h.01M70.5 155.7h.01M63.8 161.7h.01M74.6 156.3h.01M75.1 167.2h.01M64.4 156.3h.01M82.7 160.7h.01M79.6 171.9h.01M61.0 165.8h.01M89.9 173.4h.01M65.3 170.7h.01M77.5 163.5h.01M82.6 166.7h.01M73.1 172.5h.01M72.2 177.6h.01M71.1 178.6h.01M78.3 152.5h.01M77.0 179.6h.01M81.2 168.1h.01M74.6 167.7h.01M73.9 165.1h.01M65.2 161.6h.01M83.5 161.3h.01M87.2 165.3h.01M70.9 159.6h.01M69.7 169.3h.01M69.5 166.7h.01M54.0 174.3h.01M68.0 166.1h.01M63.9 159.7h.01M70.3 180.4h.01M63.0 168.5h.01M65.0 170.2h.01M74.4 182.4h.01M68.6 180.4h.01" stroke="#9a9a9a" stroke-width="0.75" stroke-linecap="round" opacity="1"/>
<path d="M79.8 170.9h.01M94.9 168.1h.01M80.5 166.9h.01M82.8 169.6h.01M76.7 162.6h.01M86.0 166.6h.01M82.4 172.2h.01M82.7 169.2h.01M76.8 168.2h.01M73.7 178.9h.01M78.3 178.4h.01M79.7 167.4h.01M88.7 169.5h.01M83.1 166.6h.01M80.9 163.8h.01M78.4 157.5h.01M81.5 163.6h.01M89.3 181.0h.01M91.8 161.1h.01M80.4 167.5h.01M74.5 177.7h.01M85.8 170.1h.01M91.9 171.2h.01M80.7 170.0h.01M79.9 171.2h.01M75.7 171.4h.01M80.8 165.7h.01M80.3 167.6h.01M73.5 171.9h.01M81.3 179.1h.01M82.2 174.0h.01M82.1 167.5h.01M76.2 165.5h.01M79.3 153.8h.01M80.8 164.0h.01M83.8 174.5h.01M80.8 175.5h.01M88.5 172.9h.01M80.6 169.0h.01M90.5 177.6h.01M88.0 157.9h.01M70.9 179.1h.01M85.9 176.5h.01M85.2 166.5h.01M84.6 168.1h.01M89.8 173.4h.01M77.5 163.8h.01M87.4 173.7h.01M83.7 170.4h.01M76.0 163.2h.01M84.9 157.3h.01M84.8 171.9h.01M85.6 173.5h.01M91.9 170.1h.01M78.2 158.1h.01M71.0 169.0h.01M86.8 158.3h.01M83.2 164.1h.01M81.0 169.7h.01M82.5 161.2h.01" stroke="#8a8a8a" stroke-width="0.75" stroke-linecap="round" opacity="1"/>
<path d="M98.6 139.3h.01M105.2 136.7h.01M105.4 124.7h.01M90.5 153.7h.01M103.1 145.8h.01M101.1 136.5h.01M98.3 150.3h.01M100.2 144.4h.01M99.3 145.0h.01M97.4 125.1h.01M97.4 131.2h.01M89.5 141.2h.01M94.5 127.4h.01M88.2 143.1h.01M89.2 140.9h.01M94.4 142.8h.01" stroke="#9a9a9a" stroke-width="0.75" stroke-linecap="round" opacity="1"/>
<path d="M184.4 133.3h.01M188.9 130.1h.01M189.3 131.1h.01M186.6 135.3h.01M189.0 130.4h.01M184.5 129.0h.01M187.7 134.1h.01M180.3 133.8h.01M190.0 132.8h.01M185.7 133.9h.01M183.6 131.1h.01M188.0 132.7h.01M186.0 133.5h.01M190.8 135.5h.01M187.5 132.2h.01M189.6 134.5h.01M184.9 137.0h.01M190.8 131.7h.01M184.1 136.6h.01M183.4 137.3h.01M183.9 138.7h.01M185.1 126.7h.01M180.2 137.6h.01M184.4 131.3h.01M185.1 130.6h.01M186.5 133.7h.01M184.8 131.1h.01M189.1 137.2h.01M187.9 137.7h.01M184.8 135.6h.01M191.6 132.3h.01M192.2 127.3h.01M181.9 127.3h.01M184.1 129.5h.01M184.0 135.1h.01M184.3 131.5h.01M183.8 127.4h.01M186.2 130.9h.01M188.6 134.3h.01M180.2 133.7h.01M183.0 131.0h.01M183.8 129.9h.01M185.4 129.2h.01M184.2 131.7h.01M187.5 135.8h.01M192.7 130.1h.01M183.9 136.3h.01M183.0 131.7h.01M186.8 138.2h.01M187.4 134.6h.01M185.1 134.8h.01M186.1 134.2h.01M184.3 132.2h.01M184.5 129.2h.01M184.4 130.0h.01M184.7 130.9h.01M181.4 132.7h.01M185.6 137.9h.01M180.6 127.0h.01M184.1 129.8h.01" stroke="#707070" stroke-width="0.75" stroke-linecap="round" opacity="1"/>
<path d="M191.5 133.9h.01M182.9 144.5h.01M191.9 127.6h.01M196.0 141.1h.01M197.1 142.2h.01M186.5 141.6h.01M196.3 143.5h.01M190.6 129.2h.01M192.7 132.4h.01M191.8 129.5h.01M186.4 131.3h.01M188.0 130.4h.01M194.3 148.4h.01M189.7 131.7h.01M196.0 140.3h.01M190.0 149.0h.01M185.7 142.9h.01M192.7 137.8h.01M189.6 135.2h.01M196.1 151.0h.01M204.5 145.7h.01M195.6 137.1h.01M186.9 132.3h.01M189.9 147.0h.01M192.4 147.9h.01M181.3 139.5h.01M194.1 130.7h.01M186.4 135.3h.01M179.4 132.1h.01M196.0 145.6h.01M184.1 139.0h.01M189.8 145.4h.01M182.5 141.3h.01M186.5 135.3h.01M186.1 132.6h.01M196.0 127.7h.01M184.7 136.5h.01M185.0 152.0h.01M179.6 142.0h.01M183.9 155.0h.01M183.2 155.1h.01M182.7 141.3h.01M184.2 133.7h.01M182.9 134.9h.01M199.2 138.9h.01M190.8 140.8h.01M192.6 135.0h.01M192.2 142.0h.01M192.2 141.6h.01M190.8 140.8h.01M183.8 147.3h.01M197.8 140.4h.01M196.2 133.4h.01M198.1 136.1h.01M187.1 147.5h.01M186.1 139.6h.01M196.1 137.8h.01M188.4 149.1h.01M192.3 134.7h.01M187.4 137.6h.01M187.7 145.0h.01M180.4 136.9h.01M186.7 151.9h.01M182.8 130.9h.01M194.2 141.4h.01M195.4 141.8h.01M185.5 138.6h.01M194.4 147.8h.01M189.8 141.6h.01M193.7 146.7h.01M188.7 146.1h.01M192.2 131.9h.01M191.4 150.8h.01M197.1 142.1h.01M181.3 141.1h.01M190.1 125.1h.01M191.7 134.7h.01M190.6 136.6h.01M191.7 148.0h.01M189.2 149.9h.01M195.8 139.0h.01M192.5 131.4h.01M185.9 141.6h.01M186.5 123.3h.01M189.0 133.2h.01M184.0 137.2h.01M178.8 145.9h.01M195.5 142.4h.01M185.9 138.7h.01M190.3 134.0h.01M184.4 142.2h.01M185.5 133.8h.01M188.8 131.9h.01M193.4 131.0h.01M192.6 147.1h.01M186.9 146.4h.01M196.1 139.1h.01M190.1 135.5h.01M187.9 136.6h.01M188.3 144.1h.01M200.6 146.4h.01M194.9 140.0h.01M198.0 143.9h.01M188.7 137.7h.01M190.1 137.2h.01M186.0 153.5h.01M191.2 134.6h.01M178.9 136.1h.01M185.2 132.6h.01M189.0 142.9h.01" stroke="#9a9a9a" stroke-width="0.75" stroke-linecap="round" opacity="1"/>
<path d="M175.5 170.6h.01M166.9 165.9h.01M166.8 164.5h.01M168.0 164.8h.01M174.0 162.1h.01M179.8 156.2h.01M174.1 160.0h.01M168.4 163.2h.01M172.6 168.8h.01M169.3 165.1h.01M166.4 165.3h.01M167.3 165.7h.01M173.3 170.2h.01M166.4 160.5h.01M171.2 170.5h.01M167.6 169.8h.01M165.1 163.9h.01M170.8 159.8h.01M166.9 157.5h.01M167.5 169.8h.01M168.8 165.0h.01M173.3 162.8h.01M166.1 167.1h.01M171.7 167.6h.01M172.4 171.6h.01M174.3 165.6h.01M180.7 157.9h.01M172.1 163.7h.01M182.1 164.9h.01M176.1 167.2h.01M178.0 162.8h.01M174.0 159.3h.01M175.7 170.3h.01M176.5 167.9h.01M163.3 169.9h.01M172.0 173.0h.01M175.0 168.6h.01M178.4 167.0h.01M164.6 165.9h.01M163.5 174.4h.01M169.4 162.4h.01M173.6 164.6h.01M171.9 172.2h.01M160.6 164.4h.01M171.0 166.1h.01M176.6 164.0h.01M176.2 172.5h.01M163.8 163.6h.01M168.2 167.1h.01M167.0 169.4h.01M169.5 172.2h.01M174.9 168.7h.01M173.0 167.4h.01M164.0 168.4h.01M165.0 174.3h.01M165.5 165.2h.01M172.2 175.7h.01M168.5 174.7h.01M175.3 176.3h.01M170.1 165.2h.01M171.0 164.9h.01M169.3 170.5h.01M170.7 170.8h.01M175.6 169.5h.01M180.3 168.6h.01M168.9 173.2h.01M161.8 175.1h.01M176.2 161.2h.01M175.5 158.1h.01M175.9 163.9h.01M170.2 166.7h.01M170.0 170.4h.01M171.5 166.8h.01M171.6 165.5h.01M167.8 170.6h.01M174.3 161.3h.01M177.6 170.2h.01M174.2 172.1h.01M163.3 175.1h.01M168.7 169.1h.01M170.3 177.3h.01M170.7 170.0h.01M164.7 167.9h.01M173.6 165.9h.01M170.0 173.5h.01M164.7 169.4h.01M170.6 165.8h.01M175.1 166.9h.01M171.7 169.6h.01M172.0 169.0h.01M178.0 166.0h.01M171.4 164.7h.01M179.5 168.5h.01M174.6 167.3h.01M168.1 168.4h.01M171.9 162.2h.01M167.3 167.9h.01M181.1 165.5h.01M166.5 173.7h.01M176.8 168.3h.01M169.1 167.3h.01M183.2 167.9h.01M191.0 153.6h.01M164.0 167.6h.01M166.8 165.8h.01M176.7 170.8h.01M165.9 171.1h.01M176.1 166.6h.01M179.5 169.3h.01M168.2 168.6h.01M171.7 162.1h.01M171.9 171.1h.01M173.7 166.5h.01M184.6 165.6h.01M175.3 162.3h.01M177.0 163.6h.01M170.6 165.7h.01M166.6 170.9h.01M167.1 171.8h.01M169.6 172.8h.01M174.8 170.8h.01M167.4 170.7h.01M175.6 166.9h.01M170.7 164.9h.01M157.3 173.5h.01M164.8 164.9h.01M170.6 156.5h.01M169.1 170.6h.01M171.8 166.1h.01M168.5 168.7h.01M164.1 167.1h.01M174.6 162.4h.01M170.9 165.8h.01M163.8 161.4h.01M166.9 165.3h.01M167.0 168.2h.01M174.1 168.9h.01M172.2 162.1h.01M178.8 166.3h.01M173.9 161.1h.01" stroke="#707070" stroke-width="0.75" stroke-linecap="round" opacity="1"/>
<path d="M188.8 185.2h.01M181.0 177.4h.01M168.0 172.4h.01M174.3 175.2h.01M175.9 171.7h.01M162.4 162.8h.01M177.6 189.4h.01M164.3 176.1h.01M187.0 162.2h.01M157.1 176.3h.01M172.1 163.4h.01M190.9 172.2h.01M171.7 159.4h.01M189.0 176.0h.01M185.2 180.7h.01M161.4 164.5h.01M183.8 171.5h.01M172.7 166.3h.01M185.2 169.8h.01M181.3 159.3h.01M175.2 173.1h.01M182.2 154.9h.01M170.8 165.4h.01M173.8 168.9h.01M179.7 175.2h.01M176.7 168.9h.01M185.5 178.9h.01M173.4 163.7h.01M194.2 173.3h.01M196.5 162.1h.01M169.6 169.5h.01M170.7 158.9h.01M180.6 156.7h.01M144.4 175.6h.01M163.0 174.3h.01M159.5 162.0h.01M150.2 164.7h.01M174.3 187.2h.01M180.2 163.5h.01M188.8 169.0h.01M151.3 160.5h.01M156.9 168.8h.01M173.4 165.2h.01M166.7 163.9h.01M177.1 175.8h.01M164.5 182.0h.01M164.6 169.6h.01M192.8 171.1h.01M171.5 155.0h.01M174.3 167.1h.01M173.4 179.0h.01M171.0 185.2h.01M174.8 171.2h.01M170.8 171.4h.01M188.9 169.0h.01M162.1 166.2h.01M187.4 171.8h.01M164.7 170.9h.01M176.0 174.3h.01M163.9 172.9h.01M158.9 166.8h.01M173.7 181.1h.01M175.7 183.1h.01M180.2 179.3h.01M169.5 156.3h.01M150.0 171.4h.01M192.8 164.9h.01M169.6 175.9h.01M169.4 167.9h.01M176.8 172.7h.01M166.5 165.0h.01M189.8 159.8h.01M164.1 170.5h.01M173.0 172.6h.01M192.8 176.8h.01M173.8 171.0h.01M184.3 166.9h.01M174.1 161.1h.01M178.2 168.5h.01M159.0 175.0h.01M198.3 167.9h.01M167.5 181.8h.01M178.1 170.7h.01M191.7 173.8h.01M195.2 159.2h.01M169.2 170.3h.01M174.3 160.4h.01M174.9 158.5h.01M167.6 169.3h.01M177.3 172.0h.01M166.4 174.3h.01M177.1 168.6h.01M173.5 166.0h.01M195.6 176.8h.01M178.8 179.8h.01M163.8 167.9h.01M171.2 174.2h.01M169.1 163.6h.01M156.2 164.7h.01M184.8 171.7h.01M161.9 187.6h.01M168.1 167.5h.01M172.3 170.7h.01M169.9 170.6h.01M183.8 175.4h.01M166.5 170.2h.01M165.2 168.2h.01M172.5 167.8h.01M178.9 161.5h.01M179.3 174.9h.01M170.1 168.2h.01M179.9 165.8h.01M170.8 172.3h.01M148.6 180.8h.01M177.5 174.0h.01M158.6 169.7h.01M179.6 173.4h.01M167.0 167.8h.01M190.8 168.8h.01M185.1 156.9h.01M177.7 164.8h.01M170.6 181.0h.01M161.2 165.0h.01M166.2 169.6h.01M175.0 173.2h.01M188.0 171.0h.01M194.6 174.4h.01M179.6 167.7h.01M188.3 164.7h.01M184.6 168.1h.01M169.1 176.4h.01M181.8 170.9h.01M185.9 168.6h.01M166.4 172.2h.01M192.4 158.5h.01M154.6 174.0h.01M165.2 182.6h.01M174.3 162.5h.01M171.9 162.8h.01M180.7 176.2h.01M188.6 175.5h.01M175.7 179.2h.01M177.2 159.1h.01M187.2 160.2h.01M165.3 159.2h.01M161.9 155.4h.01M159.6 166.2h.01M160.7 169.6h.01M182.0 165.9h.01M180.4 177.7h.01M169.9 182.8h.01M173.5 169.7h.01M180.0 179.8h.01M162.5 179.8h.01M169.0 171.8h.01M159.3 152.6h.01M187.7 173.4h.01M161.3 165.2h.01M161.1 172.3h.01M195.6 164.5h.01M157.1 179.4h.01M161.8 159.6h.01M178.1 169.1h.01M177.0 175.2h.01M180.9 151.8h.01M177.7 178.6h.01M185.6 159.3h.01M152.8 165.3h.01M177.9 167.6h.01M182.5 166.8h.01M158.7 164.1h.01M172.8 177.0h.01M188.2 159.0h.01M178.6 168.5h.01M159.7 163.3h.01M190.0 163.2h.01M173.8 173.7h.01M179.0 174.6h.01M164.8 168.8h.01M177.3 172.1h.01" stroke="#9a9a9a" stroke-width="0.75" stroke-linecap="round" opacity="1"/>
<rect x="36.5" y="56.5" width="41" height="34" fill="none" stroke="#404040" stroke-width="0.85"/>
<rect x="78.5" y="20.5" width="38" height="35" fill="none" stroke="#404040" stroke-width="0.85"/>
<rect x="78.5" y="57.5" width="38" height="33" fill="none" stroke="#404040" stroke-width="0.85"/>
<rect x="135.5" y="55.5" width="41" height="35" fill="none" stroke="#404040" stroke-width="0.85"/>
<rect x="178.5" y="20.5" width="38" height="35" fill="none" stroke="#404040" stroke-width="0.85"/>
<rect x="178.5" y="57.5" width="38" height="34" fill="none" stroke="#404040" stroke-width="0.85"/>
<rect x="36.5" y="156.5" width="40" height="35" fill="none" stroke="#404040" stroke-width="0.85"/>
<rect x="78.5" y="120.5" width="38" height="35" fill="none" stroke="#404040" stroke-width="0.85"/>
<rect x="78.5" y="157.5" width="38" height="34" fill="none" stroke="#404040" stroke-width="0.85"/>
<rect x="135.5" y="156.5" width="41" height="34" fill="none" stroke="#404040" stroke-width="0.85"/>
<rect x="177.5" y="120.5" width="39" height="35" fill="none" stroke="#404040" stroke-width="0.85"/>
<rect x="177.5" y="156.5" width="39" height="34" fill="none" stroke="#404040" stroke-width="0.85"/>
<text x="111.3" y="25.6" font-size="3.7" text-anchor="end">MPP</text>
<text x="112.8" y="32.4" font-size="4.9" text-anchor="end">31.1</text>
<text x="36.9" y="83" font-size="4.6">LT-HSC</text>
<text x="39.6" y="89" font-size="4.9">31.4</text>
<text x="115.6" y="83" font-size="4.8" text-anchor="end">ST-HSC</text>
<text x="111.4" y="90" font-size="4.9" text-anchor="end">30.5</text>
<text x="212.6" y="27.8" font-size="4.9" text-anchor="end">19.4</text>
<text x="139.2" y="86.8" font-size="4.9">37.1</text>
<text x="208.8" y="87.4" font-size="4.9" text-anchor="end">37.9</text>
<text x="112.6" y="128.6" font-size="4.9" text-anchor="end">3.64</text>
<text x="39.8" y="186.2" font-size="4.9">64.7</text>
<text x="111.4" y="186.8" font-size="4.9" text-anchor="end">26.5</text>
<text x="213.4" y="128.8" font-size="4.9" text-anchor="end">30.9</text>
<text x="139.2" y="186" font-size="4.9">29.1</text>
<text x="211.4" y="186.4" font-size="4.9" text-anchor="end">34.2</text>
<text x="72.3" y="11.8" font-size="5.8" class="bi" textLength="48.2" lengthAdjust="spacingAndGlyphs" fill="#111">Mysm1+/+p53+/+</text>
<text x="177.5" y="12.2" font-size="5.8" class="bi" textLength="45.8" lengthAdjust="spacingAndGlyphs" fill="#111">Mysm1+/+p53-/-</text>
<text x="79.8" y="111.5" font-size="5.8" class="bi" textLength="42.4" lengthAdjust="spacingAndGlyphs" fill="#111">Mysm1-/-p53+/+</text>
<text x="180.2" y="111.5" font-size="5.8" class="bi" textLength="40.6" lengthAdjust="spacingAndGlyphs" fill="#111">Mysm1-/-p53-/-</text>
<text x="1" y="187.2" font-size="7.0">Flt3</text>
<text x="46.3" y="229.9" font-size="6.6">CD34</text>
<path d="M12.4 223.2V191.8" stroke="#111" stroke-width="1.1" fill="none"/>
<path d="M10.3 195.2L12.4 191.2L14.5 195.2" stroke="#111" stroke-width="1.0" fill="none"/>
<path d="M11.8 222.6H44.6" stroke="#111" stroke-width="1.1" fill="none"/>
<path d="M41.2 220.5L45.2 222.6L41.2 224.7" stroke="#111" stroke-width="1.0" fill="none"/>
<path d="M34.8 324.1L34.8 323.51L35.3 323.51L35.8 323.51L36.3 323.51L36.8 323.51L37.3 323.51L37.8 323.51L38.3 323.51L38.8 323.51L39.3 323.51L39.8 323.51L40.3 323.51L40.8 323.51L41.3 323.51L41.8 323.51L42.3 323.51L42.8 323.5L43.3 323.5L43.8 323.5L44.3 323.5L44.8 323.5L45.3 323.5L45.8 323.49L46.3 323.49L46.8 323.49L47.3 323.48L47.8 323.48L48.3 323.47L48.8 323.46L49.3 323.45L49.8 323.44L50.3 323.43L50.8 323.42L51.3 323.4L51.8 323.38L52.3 323.36L52.8 323.33L53.3 323.3L53.8 323.27L54.3 323.23L54.8 323.19L55.3 323.14L55.8 323.08L56.3 323.02L56.8 322.94L57.3 322.86L57.8 322.77L58.3 322.67L58.8 322.56L59.3 322.44L59.8 322.31L60.3 322.16L60.8 321.99L61.3 321.82L61.8 321.62L62.3 321.41L62.8 321.18L63.3 320.93L63.8 320.66L64.3 320.36L64.8 320.04L65.3 319.68L65.8 319.28L66.3 318.84L66.8 318.35L67.3 317.79L67.8 317.15L68.3 316.42L68.8 315.58L69.3 314.61L69.8 313.48L70.3 312.18L70.8 310.67L71.3 308.95L71.8 306.98L72.3 304.76L72.8 302.29L73.3 299.57L73.8 296.61L74.3 293.44L74.8 290.11L75.3 286.67L75.8 283.19L76.3 279.76L76.8 276.46L77.3 273.38L77.8 270.63L78.3 268.29L78.8 266.45L79.3 265.15L79.8 264.46L80.3 264.4L80.8 264.97L81.3 266.14L81.8 267.88L82.3 270.13L82.8 272.81L83.3 275.82L83.8 279.08L84.3 282.5L84.8 285.97L85.3 289.42L85.8 292.78L86.3 295.99L86.8 298.99L87.3 301.77L87.8 304.29L88.3 306.56L88.8 308.57L89.3 310.34L89.8 311.89L90.3 313.23L90.8 314.4L91.3 315.4L91.8 316.26L92.3 317.02L92.8 317.67L93.3 318.24L93.8 318.75L94.3 319.2L94.8 319.6L95.3 319.97L95.8 320.3L96.3 320.6L96.8 320.88L97.3 321.13L97.8 321.37L98.3 321.58L98.8 321.78L99.3 321.96L99.8 322.13L100.3 322.28L100.8 322.41L101.3 322.54L101.8 322.65L102.3 322.75L102.8 322.85L103.3 322.93L103.8 323L104.3 323.07L104.8 323.13L105.3 323.18L105.8 323.22L106.3 323.26L106.8 323.3L107.3 323.33L107.8 323.35L108.3 323.38L108.8 323.4L109.3 323.41L109.8 323.43L110.3 323.44L110.8 323.45L111.3 323.46L111.8 323.47L112.3 323.48L112.8 323.48L113.3 323.49L113.8 323.49L114.3 323.49L114.5 324.1Z" fill="#4d4d4d"/>
<path d="M115.5 324.1L115.5 323.42L116 323.42L116.5 323.42L117 323.42L117.5 323.41L118 323.41L118.5 323.41L119 323.41L119.5 323.41L120 323.4L120.5 323.4L121 323.39L121.5 323.39L122 323.38L122.5 323.37L123 323.35L123.5 323.34L124 323.32L124.5 323.3L125 323.27L125.5 323.24L126 323.2L126.5 323.16L127 323.11L127.5 323.06L128 322.99L128.5 322.92L129 322.83L129.5 322.72L130 322.54L130.5 322.26L131 321.75L131.5 320.83L132 319.24L132.5 316.62L133 312.6L133.5 306.91L134 299.54L134.5 290.86L135 281.75L135.5 273.45L136 267.36L136.5 264.6L137 265.7L137.5 270.43L138 277.87L138.5 286.69L139 295.56L139.5 303.43L140 309.72L140.5 314.3L141 317.37L141.5 319.28L142 320.4L142.5 321.03L143 321.38L143.5 321.6L144 321.75L144.5 321.87L145 321.98L145.5 322.07L146 322.17L146.5 322.25L147 322.32L147.5 322.39L148 322.43L148.5 322.47L149 322.48L149.5 322.48L150 322.46L150.5 322.42L151 322.37L151.5 322.29L152 322.2L152.5 322.08L153 321.96L153.5 321.81L154 321.66L154.5 321.49L155 321.32L155.5 321.15L156 320.97L156.5 320.8L157 320.64L157.5 320.49L158 320.35L158.5 320.24L159 320.14L159.5 320.07L160 320.02L160.5 320.01L161 320.02L161.5 320.05L162 320.12L162.5 320.21L163 320.32L163.5 320.45L164 320.6L164.5 320.77L165 320.94L165.5 321.13L166 321.31L166.5 321.5L167 321.69L167.5 321.87L168 322.04L168.5 322.2L169 322.36L169.5 322.5L170 322.63L170.5 322.74L171 322.85L171.5 322.94L172 323.02L172.5 323.09L173 323.15L173.5 323.2L174 323.24L174.5 323.28L175 323.31L175.5 323.33L176 323.35L176.5 323.37L177 323.38L177.5 323.39L178 323.4L178.5 323.4L179 323.41L179.5 323.41L180 323.41L180.5 323.41L181 323.41L181.5 323.42L182 323.42L182.5 323.42L183 323.42L183.5 323.42L184 323.42L184.5 323.42L185 323.42L185.5 323.42L186 323.42L186.5 323.42L187 323.42L187.5 323.42L188 323.42L188.5 323.42L189 323.42L189.5 323.42L190 323.42L190.5 323.42L191 323.42L191.5 323.42L192 323.42L192.5 323.42L193 323.42L193.5 323.42L194 323.42L194.5 323.42L195 323.42L195.5 323.42L196 323.42L196.1 324.1Z" fill="#4d4d4d"/>
<path d="M34.8 384.1L34.8 383.65L35.3 383.65L35.8 383.65L36.3 383.65L36.8 383.65L37.3 383.65L37.8 383.65L38.3 383.65L38.8 383.65L39.3 383.65L39.8 383.65L40.3 383.64L40.8 383.64L41.3 383.64L41.8 383.64L42.3 383.64L42.8 383.64L43.3 383.64L43.8 383.64L44.3 383.64L44.8 383.64L45.3 383.64L45.8 383.64L46.3 383.64L46.8 383.63L47.3 383.63L47.8 383.63L48.3 383.62L48.8 383.62L49.3 383.61L49.8 383.6L50.3 383.6L50.8 383.59L51.3 383.58L51.8 383.56L52.3 383.55L52.8 383.53L53.3 383.51L53.8 383.48L54.3 383.45L54.8 383.42L55.3 383.38L55.8 383.34L56.3 383.29L56.8 383.24L57.3 383.17L57.8 383.1L58.3 383.02L58.8 382.94L59.3 382.84L59.8 382.73L60.3 382.61L60.8 382.48L61.3 382.33L61.8 382.17L62.3 382L62.8 381.82L63.3 381.61L63.8 381.4L64.3 381.16L64.8 380.91L65.3 380.65L65.8 380.36L66.3 380.06L66.8 379.75L67.3 379.41L67.8 379.06L68.3 378.69L68.8 378.3L69.3 377.89L69.8 377.45L70.3 376.99L70.8 376.49L71.3 375.95L71.8 375.37L72.3 374.73L72.8 374.02L73.3 373.22L73.8 372.33L74.3 371.33L74.8 370.19L75.3 368.9L75.8 367.45L76.3 365.81L76.8 363.99L77.3 361.96L77.8 359.72L78.3 357.29L78.8 354.68L79.3 351.91L79.8 349.02L80.3 346.04L80.8 343.04L81.3 340.07L81.8 337.21L82.3 334.53L82.8 332.09L83.3 329.97L83.8 328.24L84.3 326.96L84.8 326.17L85.3 325.9L85.8 326.17L86.3 326.98L86.8 328.3L87.3 330.12L87.8 332.37L88.3 335L88.8 337.94L89.3 341.11L89.8 344.44L90.3 347.85L90.8 351.26L91.3 354.62L91.8 357.87L92.3 360.95L92.8 363.84L93.3 366.5L93.8 368.92L94.3 371.09L94.8 373.01L95.3 374.7L95.8 376.16L96.3 377.42L96.8 378.48L97.3 379.38L97.8 380.13L98.3 380.75L98.8 381.26L99.3 381.68L99.8 382.03L100.3 382.31L100.8 382.54L101.3 382.73L101.8 382.88L102.3 383L102.8 383.11L103.3 383.19L103.8 383.26L104.3 383.32L104.8 383.37L105.3 383.42L105.8 383.45L106.3 383.48L106.8 383.51L107.3 383.53L107.8 383.55L108.3 383.56L108.8 383.58L109.3 383.59L109.8 383.6L110.3 383.61L110.8 383.61L111.3 383.62L111.8 383.62L112.3 383.63L112.8 383.63L113.3 383.63L113.8 383.64L114.3 383.64L114.5 384.1Z" fill="#4d4d4d"/>
<path d="M115.5 384.1L115.5 383.53L116 383.53L116.5 383.53L117 383.52L117.5 383.51L118 383.5L118.5 383.48L119 383.45L119.5 383.41L120 383.35L120.5 383.27L121 383.15L121.5 382.98L122 382.76L122.5 382.45L123 382.04L123.5 381.5L124 380.81L124.5 379.93L125 378.83L125.5 377.48L126 375.84L126.5 373.9L127 371.62L127.5 369L128 366.04L128.5 362.77L129 359.21L129.5 355.42L130 351.47L130.5 347.47L131 343.5L131.5 339.69L132 336.17L132.5 333.04L133 330.42L133.5 328.41L134 327.09L134.5 326.5L135 326.67L135.5 327.58L136 329.19L136.5 331.45L137 334.25L137.5 337.49L138 341.04L138.5 344.79L139 348.62L139.5 352.41L140 356.06L140.5 359.48L141 362.62L141.5 365.43L142 367.87L142.5 369.94L143 371.65L143.5 373L144 374.03L144.5 374.77L145 375.24L145.5 375.5L146 375.57L146.5 375.5L147 375.32L147.5 375.06L148 374.76L148.5 374.43L149 374.1L149.5 373.78L150 373.5L150.5 373.25L151 373.04L151.5 372.88L152 372.77L152.5 372.69L153 372.66L153.5 372.65L154 372.68L154.5 372.71L155 372.76L155.5 372.81L156 372.85L156.5 372.87L157 372.85L157.5 372.79L158 372.66L158.5 372.44L159 372.11L159.5 371.63L160 370.96L160.5 370.09L161 368.96L161.5 367.55L162 365.83L162.5 363.78L163 361.4L163.5 358.69L164 355.7L164.5 352.47L165 349.09L165.5 345.64L166 342.24L166.5 339.02L167 336.1L167.5 333.63L168 331.71L168.5 330.44L169 329.89L169.5 330.1L170 331.07L170.5 332.77L171 335.14L171.5 338.07L172 341.46L172.5 345.17L173 349.07L173.5 353.03L174 356.93L174.5 360.68L175 364.18L175.5 367.38L176 370.24L176.5 372.75L177 374.91L177.5 376.72L178 378.22L178.5 379.44L179 380.42L179.5 381.18L180 381.77L180.5 382.23L181 382.57L181.5 382.82L182 383.01L182.5 383.14L183 383.24L183.5 383.32L184 383.37L184.5 383.41L185 383.44L185.5 383.46L186 383.47L186.5 383.48L187 383.49L187.5 383.5L188 383.51L188.5 383.51L189 383.52L189.5 383.52L190 383.52L190.5 383.52L191 383.53L191.5 383.53L192 383.53L192.5 383.53L193 383.53L193.5 383.53L194 383.53L194.5 383.53L195 383.53L195.5 383.53L196 383.53L196.1 384.1Z" fill="#4d4d4d"/>
<path d="M34.8 444.6L34.8 444.05L35.3 444.05L35.8 444.05L36.3 444.05L36.8 444.05L37.3 444.05L37.8 444.05L38.3 444.04L38.8 444.04L39.3 444.04L39.8 444.04L40.3 444.04L40.8 444.04L41.3 444.04L41.8 444.03L42.3 444.03L42.8 444.03L43.3 444.03L43.8 444.02L44.3 444.02L44.8 444.01L45.3 444L45.8 443.99L46.3 443.98L46.8 443.97L47.3 443.96L47.8 443.94L48.3 443.92L48.8 443.9L49.3 443.87L49.8 443.85L50.3 443.81L50.8 443.78L51.3 443.73L51.8 443.69L52.3 443.63L52.8 443.57L53.3 443.51L53.8 443.43L54.3 443.35L54.8 443.26L55.3 443.15L55.8 443.04L56.3 442.92L56.8 442.78L57.3 442.63L57.8 442.47L58.3 442.3L58.8 442.11L59.3 441.91L59.8 441.69L60.3 441.46L60.8 441.21L61.3 440.95L61.8 440.67L62.3 440.37L62.8 440.07L63.3 439.74L63.8 439.41L64.3 439.06L64.8 438.69L65.3 438.31L65.8 437.92L66.3 437.51L66.8 437.08L67.3 436.63L67.8 436.15L68.3 435.63L68.8 435.08L69.3 434.47L69.8 433.79L70.3 433.03L70.8 432.16L71.3 431.17L71.8 430.04L72.3 428.73L72.8 427.23L73.3 425.52L73.8 423.57L74.3 421.39L74.8 418.97L75.3 416.32L75.8 413.46L76.3 410.43L76.8 407.28L77.3 404.07L77.8 400.88L78.3 397.79L78.8 394.9L79.3 392.29L79.8 390.07L80.3 388.31L80.8 387.08L81.3 386.43L81.8 386.4L82.3 387L82.8 388.21L83.3 389.99L83.8 392.3L84.3 395.05L84.8 398.16L85.3 401.53L85.8 405.08L86.3 408.69L86.8 412.29L87.3 415.8L87.8 419.15L88.3 422.29L88.8 425.18L89.3 427.81L89.8 430.15L90.3 432.22L90.8 434.02L91.3 435.57L91.8 436.89L92.3 438L92.8 438.94L93.3 439.72L93.8 440.36L94.3 440.9L94.8 441.35L95.3 441.72L95.8 442.04L96.3 442.3L96.8 442.52L97.3 442.71L97.8 442.88L98.3 443.02L98.8 443.15L99.3 443.26L99.8 443.35L100.3 443.44L100.8 443.52L101.3 443.58L101.8 443.64L102.3 443.7L102.8 443.74L103.3 443.78L103.8 443.82L104.3 443.85L104.8 443.88L105.3 443.9L105.8 443.92L106.3 443.94L106.8 443.96L107.3 443.97L107.8 443.98L108.3 443.99L108.8 444L109.3 444.01L109.8 444.02L110.3 444.02L110.8 444.03L111.3 444.03L111.8 444.03L112.3 444.04L112.8 444.04L113.3 444.04L113.8 444.04L114.3 444.04L114.5 444.6Z" fill="#6e6e6e"/>
<path d="M115.5 444.6L115.5 443.92L116 443.88L116.5 443.81L117 443.72L117.5 443.59L118 443.41L118.5 443.16L119 442.84L119.5 442.41L120 441.85L120.5 441.13L121 440.23L121.5 439.11L122 437.74L122.5 436.09L123 434.13L123.5 431.84L124 429.22L124.5 426.27L125 423L125.5 419.45L126 415.66L126.5 411.71L127 407.68L127.5 403.68L128 399.8L128.5 396.18L129 392.92L129.5 390.14L130 387.94L130.5 386.4L131 385.58L131.5 385.5L132 386.17L132.5 387.57L133 389.65L133.5 392.31L134 395.48L134.5 399.03L135 402.86L135.5 406.84L136 410.86L136.5 414.82L137 418.63L137.5 422.21L138 425.52L138.5 428.52L139 431.17L139.5 433.49L140 435.46L140.5 437.12L141 438.49L141.5 439.59L142 440.45L142.5 441.11L143 441.6L143.5 441.94L144 442.15L144.5 442.27L145 442.3L145.5 442.27L146 442.18L146.5 442.04L147 441.87L147.5 441.66L148 441.43L148.5 441.18L149 440.91L149.5 440.63L150 440.33L150.5 440.01L151 439.69L151.5 439.35L152 439.01L152.5 438.64L153 438.26L153.5 437.84L154 437.39L154.5 436.89L155 436.33L155.5 435.67L156 434.91L156.5 434.02L157 432.98L157.5 431.75L158 430.34L158.5 428.72L159 426.89L159.5 424.86L160 422.66L160.5 420.31L161 417.88L161.5 415.43L162 413.04L162.5 410.79L163 408.78L163.5 407.09L164 405.81L164.5 405L165 404.71L165.5 404.96L166 405.75L166.5 407.06L167 408.83L167.5 411.01L168 413.5L168.5 416.21L169 419.06L169.5 421.94L170 424.78L170.5 427.49L171 430.03L171.5 432.35L172 434.42L172.5 436.24L173 437.8L173.5 439.11L174 440.2L174.5 441.08L175 441.79L175.5 442.34L176 442.77L176.5 443.1L177 443.35L177.5 443.53L178 443.67L178.5 443.77L179 443.84L179.5 443.89L180 443.92L180.5 443.95L181 443.97L181.5 443.98L182 443.99L182.5 444L183 444L183.5 444L184 444.01L184.5 444.01L185 444.01L185.5 444.01L186 444.01L186.5 444.01L187 444.01L187.5 444.01L188 444.01L188.5 444.01L189 444.01L189.5 444.01L190 444.01L190.5 444.01L191 444.01L191.5 444.01L192 444.01L192.5 444.01L193 444.01L193.5 444.01L194 444.01L194.5 444.01L195 444.01L195.5 444.01L196 444.01L196.1 444.6Z" fill="#6e6e6e"/>
<path d="M34.3 264.0H196.6V444.6H34.3Z" stroke="#585858" stroke-width="0.9" fill="none"/>
<path d="M34.3 324.1L196.6 324.1" stroke="#585858" stroke-width="0.9"/>
<path d="M34.3 384.1L196.6 384.1" stroke="#585858" stroke-width="0.9"/>
<path d="M115 264L115 444.6" stroke="#585858" stroke-width="0.9"/>
<path d="M63.7 264L63.7 324.1" stroke="#444" stroke-width="0.9"/>
<path d="M143.8 264L143.8 324.1" stroke="#444" stroke-width="0.9"/>
<path d="M34.3 305.9L63.7 305.9" stroke="#444" stroke-width="0.9"/>
<path d="M115 312.3L143.8 312.3" stroke="#444" stroke-width="0.9"/>
<path d="M69.3 324.1L69.3 384.1" stroke="#444" stroke-width="0.9"/>
<path d="M148.6 324.1L148.6 384.1" stroke="#444" stroke-width="0.9"/>
<path d="M34.3 353.7L69.3 353.7" stroke="#444" stroke-width="0.9"/>
<path d="M115 353.7L148.6 353.7" stroke="#444" stroke-width="0.9"/>
<path d="M69.3 384.1L69.3 444.6" stroke="#444" stroke-width="0.9"/>
<path d="M149.3 384.1L149.3 444.6" stroke="#444" stroke-width="0.9"/>
<path d="M34.3 414.2L69.3 414.2" stroke="#444" stroke-width="0.9"/>
<path d="M115 414.2L149.3 414.2" stroke="#444" stroke-width="0.9"/>
<path d="M33.1 266L34.3 266" stroke="#999" stroke-width="0.6"/>
<path d="M33.1 269L34.3 269" stroke="#999" stroke-width="0.6"/>
<path d="M33.1 272L34.3 272" stroke="#999" stroke-width="0.6"/>
<path d="M33.1 275L34.3 275" stroke="#999" stroke-width="0.6"/>
<path d="M33.1 278L34.3 278" stroke="#999" stroke-width="0.6"/>
<path d="M33.1 281L34.3 281" stroke="#999" stroke-width="0.6"/>
<path d="M33.1 284L34.3 284" stroke="#999" stroke-width="0.6"/>
<path d="M33.1 287L34.3 287" stroke="#999" stroke-width="0.6"/>
<path d="M33.1 290L34.3 290" stroke="#999" stroke-width="0.6"/>
<path d="M33.1 293L34.3 293" stroke="#999" stroke-width="0.6"/>
<path d="M33.1 296L34.3 296" stroke="#999" stroke-width="0.6"/>
<path d="M33.1 299L34.3 299" stroke="#999" stroke-width="0.6"/>
<path d="M33.1 302L34.3 302" stroke="#999" stroke-width="0.6"/>
<path d="M33.1 305L34.3 305" stroke="#999" stroke-width="0.6"/>
<path d="M33.1 308L34.3 308" stroke="#999" stroke-width="0.6"/>
<path d="M33.1 311L34.3 311" stroke="#999" stroke-width="0.6"/>
<path d="M33.1 314L34.3 314" stroke="#999" stroke-width="0.6"/>
<path d="M33.1 317L34.3 317" stroke="#999" stroke-width="0.6"/>
<path d="M33.1 320L34.3 320" stroke="#999" stroke-width="0.6"/>
<path d="M33.1 323L34.3 323" stroke="#999" stroke-width="0.6"/>
<path d="M33.1 326L34.3 326" stroke="#999" stroke-width="0.6"/>
<path d="M33.1 329L34.3 329" stroke="#999" stroke-width="0.6"/>
<path d="M33.1 332L34.3 332" stroke="#999" stroke-width="0.6"/>
<path d="M33.1 335L34.3 335" stroke="#999" stroke-width="0.6"/>
<path d="M33.1 338L34.3 338" stroke="#999" stroke-width="0.6"/>
<path d="M33.1 341L34.3 341" stroke="#999" stroke-width="0.6"/>
<path d="M33.1 344L34.3 344" stroke="#999" stroke-width="0.6"/>
<path d="M33.1 347L34.3 347" stroke="#999" stroke-width="0.6"/>
<path d="M33.1 350L34.3 350" stroke="#999" stroke-width="0.6"/>
<path d="M33.1 353L34.3 353" stroke="#999" stroke-width="0.6"/>
<path d="M33.1 356L34.3 356" stroke="#999" stroke-width="0.6"/>
<path d="M33.1 359L34.3 359" stroke="#999" stroke-width="0.6"/>
<path d="M33.1 362L34.3 362" stroke="#999" stroke-width="0.6"/>
<path d="M33.1 365L34.3 365" stroke="#999" stroke-width="0.6"/>
<path d="M33.1 368L34.3 368" stroke="#999" stroke-width="0.6"/>
<path d="M33.1 371L34.3 371" stroke="#999" stroke-width="0.6"/>
<path d="M33.1 374L34.3 374" stroke="#999" stroke-width="0.6"/>
<path d="M33.1 377L34.3 377" stroke="#999" stroke-width="0.6"/>
<path d="M33.1 380L34.3 380" stroke="#999" stroke-width="0.6"/>
<path d="M33.1 383L34.3 383" stroke="#999" stroke-width="0.6"/>
<path d="M33.1 386L34.3 386" stroke="#999" stroke-width="0.6"/>
<path d="M33.1 389L34.3 389" stroke="#999" stroke-width="0.6"/>
<path d="M33.1 392L34.3 392" stroke="#999" stroke-width="0.6"/>
<path d="M33.1 395L34.3 395" stroke="#999" stroke-width="0.6"/>
<path d="M33.1 398L34.3 398" stroke="#999" stroke-width="0.6"/>
<path d="M33.1 401L34.3 401" stroke="#999" stroke-width="0.6"/>
<path d="M33.1 404L34.3 404" stroke="#999" stroke-width="0.6"/>
<path d="M33.1 407L34.3 407" stroke="#999" stroke-width="0.6"/>
<path d="M33.1 410L34.3 410" stroke="#999" stroke-width="0.6"/>
<path d="M33.1 413L34.3 413" stroke="#999" stroke-width="0.6"/>
<path d="M33.1 416L34.3 416" stroke="#999" stroke-width="0.6"/>
<path d="M33.1 419L34.3 419" stroke="#999" stroke-width="0.6"/>
<path d="M33.1 422L34.3 422" stroke="#999" stroke-width="0.6"/>
<path d="M33.1 425L34.3 425" stroke="#999" stroke-width="0.6"/>
<path d="M33.1 428L34.3 428" stroke="#999" stroke-width="0.6"/>
<path d="M33.1 431L34.3 431" stroke="#999" stroke-width="0.6"/>
<path d="M33.1 434L34.3 434" stroke="#999" stroke-width="0.6"/>
<path d="M33.1 437L34.3 437" stroke="#999" stroke-width="0.6"/>
<path d="M33.1 440L34.3 440" stroke="#999" stroke-width="0.6"/>
<path d="M33.1 443L34.3 443" stroke="#999" stroke-width="0.6"/>
<path d="M36 444.6L36 445.6" stroke="#999" stroke-width="0.6"/>
<path d="M40 444.6L40 445.6" stroke="#999" stroke-width="0.6"/>
<path d="M44 444.6L44 445.6" stroke="#999" stroke-width="0.6"/>
<path d="M48 444.6L48 445.6" stroke="#999" stroke-width="0.6"/>
<path d="M52 444.6L52 445.6" stroke="#999" stroke-width="0.6"/>
<path d="M56 444.6L56 445.6" stroke="#999" stroke-width="0.6"/>
<path d="M60 444.6L60 445.6" stroke="#999" stroke-width="0.6"/>
<path d="M64 444.6L64 445.6" stroke="#999" stroke-width="0.6"/>
<path d="M68 444.6L68 445.6" stroke="#999" stroke-width="0.6"/>
<path d="M72 444.6L72 445.6" stroke="#999" stroke-width="0.6"/>
<path d="M76 444.6L76 445.6" stroke="#999" stroke-width="0.6"/>
<path d="M80 444.6L80 445.6" stroke="#999" stroke-width="0.6"/>
<path d="M84 444.6L84 445.6" stroke="#999" stroke-width="0.6"/>
<path d="M88 444.6L88 445.6" stroke="#999" stroke-width="0.6"/>
<path d="M92 444.6L92 445.6" stroke="#999" stroke-width="0.6"/>
<path d="M96 444.6L96 445.6" stroke="#999" stroke-width="0.6"/>
<path d="M100 444.6L100 445.6" stroke="#999" stroke-width="0.6"/>
<path d="M104 444.6L104 445.6" stroke="#999" stroke-width="0.6"/>
<path d="M108 444.6L108 445.6" stroke="#999" stroke-width="0.6"/>
<path d="M112 444.6L112 445.6" stroke="#999" stroke-width="0.6"/>
<text x="79.3" y="245.9" font-size="8.1" class="b">CD45.1 Wild Type</text>
<text x="108.9" y="255.4" font-size="7.9" class="b">vs</text>
<text x="48.6" y="262" font-size="8.3" class="b">CD45.2 <tspan font-style="italic">Mysm1</tspan><tspan font-size="4.8" dy="-3.3">-/-</tspan></text>
<text x="116.4" y="262" font-size="8.3" class="b">CD45.2 <tspan font-style="italic">Mysm1</tspan><tspan font-size="4.8" dy="-3.3">-/-</tspan><tspan dy="3.3" font-style="italic"> p53</tspan><tspan font-size="4.8" dy="-3.3">-/-</tspan></text>
<text x="9" y="294.6" font-size="8.0" class="b" textLength="23.6" lengthAdjust="spacingAndGlyphs">CD11b</text>
<text x="11.1" y="358.8" font-size="8.0" class="b">B220</text>
<text x="15.1" y="416.5" font-size="8.0" class="b">CD4</text>
<path d="M34.6 453.4H84.4" stroke="#111" stroke-width="1.2" fill="none"/>
<path d="M81.6 451.2L85.8 453.4L81.6 455.6Z" stroke="#111" stroke-width="0.6" fill="#111"/>
<text x="87.6" y="456.3" font-size="7.3" class="b">CD45.1</text>
<path d="M52.4 559.9L52.4 555.26L53.1 555.26L53.1 549.77L53.8 549.77L53.8 550.31L54.5 550.31L54.5 554.18L55.2 554.18L55.2 552.23L55.9 552.23L55.9 552.52L56.6 552.52L56.6 550.83L57.3 550.83L57.3 549.63L58 549.63L58 555.21L58.7 555.21L58.7 555.71L59.4 555.71L59.4 548.95L60.1 548.95L60.1 552.23L60.8 552.23L60.8 549.37L61.5 549.37L61.5 555.78L62.2 555.78L62.2 551.92L62.9 551.92L62.9 549.44L63.6 549.44L63.6 553.68L64.3 553.68L64.3 506.26L65 506.26L65 506.54L65.7 506.54L65.7 524.11L66.4 524.11L66.4 523.58L67.1 523.58L67.1 512.16L67.8 512.16L67.8 503.2L68.5 503.2L68.5 514.23L69.2 514.23L69.2 517.04L69.9 517.04L69.9 512.33L70.6 512.33L70.6 520.55L71.3 520.55L71.3 516.52L72 516.52L72 512L72.7 512L72.7 510.79L73.4 510.79L73.4 516.28L74.1 516.28L74.1 516.33L74.8 516.33L74.8 516.58L75.5 516.58L75.5 511.54L76.2 511.54L76.2 515.1L76.9 515.1L76.9 520.71L77.6 520.71L77.6 503.64L78.3 503.64L78.3 509.52L79 509.52L79 507.72L79.7 507.72L79.7 517.36L80.4 517.36L80.4 501.78L81.1 501.78L81.1 505.85L81.8 505.85L81.8 522.59L82.5 522.59L82.5 519.46L83.2 519.46L83.2 512.62L83.9 512.62L83.9 515.61L84.6 515.61L84.6 516.35L85.3 516.35L85.3 532.56L86 532.56L86 529.49L86.7 529.49L86.7 538.27L87.4 538.27L87.4 545.37L88.1 545.37L88.1 540.38L88.8 540.38L88.8 535.34L89.5 535.34L89.5 536.34L90.2 536.34L90.2 542.65L90.9 542.65L90.9 541.46L91.6 541.46L91.6 551.16L92.3 551.16L92.3 547.81L93 547.81L93 538.87L93.7 538.87L93.7 545.41L94.4 545.41L94.4 549.49L95.1 549.49L95.1 543.76L95.8 543.76L95.8 541.65L96.5 541.65L96.5 542.4L97.2 542.4L97.2 547.16L97.9 547.16L97.9 546.44L98.6 546.44L98.6 545.68L99.3 545.68L99.3 542.13L100 542.13L100 546.03L100.7 546.03L100.7 559.9L101.4 559.9L101.4 559.9Z" fill="#6a6a6a"/>
<rect x="39.95" y="551.29" width="0.7" height="8.61" fill="#6a6a6a"/>
<rect x="49.65" y="551.9" width="0.7" height="8" fill="#6a6a6a"/>
<rect x="54.65" y="543.29" width="0.7" height="16.61" fill="#6a6a6a"/>
<rect x="57.15" y="544.52" width="0.7" height="15.38" fill="#6a6a6a"/>
<rect x="60.15" y="534.07" width="0.7" height="25.83" fill="#6a6a6a"/>
<rect x="65.65" y="498.4" width="0.7" height="61.5" fill="#6a6a6a"/>
<rect x="66.95" y="504.55" width="0.7" height="55.35" fill="#6a6a6a"/>
<rect x="73.15" y="498.4" width="0.7" height="61.5" fill="#6a6a6a"/>
<rect x="75.45" y="501.47" width="0.7" height="58.42" fill="#6a6a6a"/>
<rect x="78.15" y="498.4" width="0.7" height="61.5" fill="#6a6a6a"/>
<rect x="81.65" y="501.47" width="0.7" height="58.42" fill="#6a6a6a"/>
<rect x="91.65" y="534.68" width="0.7" height="25.21" fill="#6a6a6a"/>
<rect x="94.85" y="524.23" width="0.7" height="35.67" fill="#6a6a6a"/>
<rect x="97.15" y="541.45" width="0.7" height="18.45" fill="#6a6a6a"/>
<path d="M124 560.2L124 560.06L124.6 560.06L124.6 559.96L125.2 559.96L125.2 559.82L125.8 559.82L125.8 559.61L126.4 559.61L126.4 559.3L127 559.3L127 558.89L127.6 558.89L127.6 558.33L128.2 558.33L128.2 557.6L128.8 557.6L128.8 556.25L129.4 556.25L129.4 554.89L130 554.89L130 554.46L130.6 554.46L130.6 552.47L131.2 552.47L131.2 547.8L131.8 547.8L131.8 544.01L132.4 544.01L132.4 539.06L133 539.06L133 534.57L133.6 534.57L133.6 525.64L134.2 525.64L134.2 517.28L134.8 517.28L134.8 508.73L135.4 508.73L135.4 502.58L136 502.58L136 498.5L136.6 498.5L136.6 498.5L137.2 498.5L137.2 498.5L137.8 498.5L137.8 498.5L138.4 498.5L138.4 498.5L139 498.5L139 498.5L139.6 498.5L139.6 498.5L140.2 498.5L140.2 504.6L140.8 504.6L140.8 511.29L141.4 511.29L141.4 516.79L142 516.79L142 519.98L142.6 519.98L142.6 526L143.2 526L143.2 530.95L143.8 530.95L143.8 533.57L144.4 533.57L144.4 540.28L145 540.28L145 544.67L145.6 544.67L145.6 549.54L146.2 549.54L146.2 553.01L146.8 553.01L146.8 554.88L147.4 554.88L147.4 552.94L148 552.94L148 552.45L148.6 552.45L148.6 551.79L149.2 551.79L149.2 552.6L149.8 552.6L149.8 553.67L150.4 553.67L150.4 552.7L151 552.7L151 553.09L151.6 553.09L151.6 553.42L152.2 553.42L152.2 553.4L152.8 553.4L152.8 553.84L153.4 553.84L153.4 554.04L154 554.04L154 554.85L154.6 554.85L154.6 554.26L155.2 554.26L155.2 554.53L155.8 554.53L155.8 555.71L156.4 555.71L156.4 555.25L157 555.25L157 555.52L157.6 555.52L157.6 556.01L158.2 556.01L158.2 556.16L158.8 556.16L158.8 556.42L159.4 556.42L159.4 556.26L160 556.26L160 556.85L160.6 556.85L160.6 556.82L161.2 556.82L161.2 557.28L161.8 557.28L161.8 557.5L162.4 557.5L162.4 557.72L163 557.72L163 557.94L163.6 557.94L163.6 558.16L164.2 558.16L164.2 558.38L164.8 558.38L164.8 558.6L165.4 558.6L165.4 558.81L166 558.81L166 559.03L166.6 559.03L166.6 559.25L167.2 559.25L167.2 559.47L167.8 559.47L167.8 559.69L168.4 559.69L168.4 559.91L169 559.91L169 560.13L169.6 560.13L169.6 560.2L170.2 560.2L170.2 560.2Z" fill="#6a6a6a"/>
<rect x="155.05" y="548.48" width="0.7" height="11.72" fill="#6a6a6a"/>
<rect x="151.65" y="549.71" width="0.7" height="10.49" fill="#6a6a6a"/>
<rect x="157.65" y="550.33" width="0.7" height="9.87" fill="#6a6a6a"/>
<rect x="174.35" y="557.12" width="0.7" height="3.09" fill="#6a6a6a"/>
<rect x="179.35" y="557.12" width="0.7" height="3.09" fill="#6a6a6a"/>
<rect x="182.65" y="557.12" width="0.7" height="3.09" fill="#6a6a6a"/>
<rect x="189.65" y="558.35" width="0.7" height="1.85" fill="#6a6a6a"/>
<path d="M64.5 621.3L64.5 620.17L65.15 620.17L65.15 618.39L65.8 618.39L65.8 615.51L66.45 615.51L66.45 613.94L67.1 613.94L67.1 610.55L67.75 610.55L67.75 608.02L68.4 608.02L68.4 610.05L69.05 610.05L69.05 608.8L69.7 608.8L69.7 598.57L70.35 598.57L70.35 602.01L71 602.01L71 599.47L71.65 599.47L71.65 588.42L72.3 588.42L72.3 591.29L72.95 591.29L72.95 584.51L73.6 584.51L73.6 585.59L74.25 585.59L74.25 581.02L74.9 581.02L74.9 583.49L75.55 583.49L75.55 575.44L76.2 575.44L76.2 570.1L76.85 570.1L76.85 571.02L77.5 571.02L77.5 565.84L78.15 565.84L78.15 563.78L78.8 563.78L78.8 567.54L79.45 567.54L79.45 561.2L80.1 561.2L80.1 564.86L80.75 564.86L80.75 571.27L81.4 571.27L81.4 577.46L82.05 577.46L82.05 571.7L82.7 571.7L82.7 579.21L83.35 579.21L83.35 579.82L84 579.82L84 581.36L84.65 581.36L84.65 586.4L85.3 586.4L85.3 587.56L85.95 587.56L85.95 596.66L86.6 596.66L86.6 595.67L87.25 595.67L87.25 602.89L87.9 602.89L87.9 602.06L88.55 602.06L88.55 606.64L89.2 606.64L89.2 614.44L89.85 614.44L89.85 616.99L90.5 616.99L90.5 619.34L91.15 619.34L91.15 621.3L91.8 621.3L91.8 621.3Z" fill="#6a6a6a"/>
<rect x="73.05" y="576.83" width="0.7" height="44.47" fill="#6a6a6a"/>
<rect x="60.15" y="615.29" width="0.7" height="6.01" fill="#6a6a6a"/>
<rect x="79.15" y="561.2" width="0.7" height="60.1" fill="#6a6a6a"/>
<rect x="78.25" y="565.41" width="0.7" height="55.89" fill="#6a6a6a"/>
<path d="M128.9 621.3L128.9 613.18L129.5 613.18L129.5 613.95L130.1 613.95L130.1 612.25L130.7 612.25L130.7 613.65L131.3 613.65L131.3 614.16L131.9 614.16L131.9 612.22L132.5 612.22L132.5 591.97L133.1 591.97L133.1 582.06L133.7 582.06L133.7 574.28L134.3 574.28L134.3 573.69L134.9 573.69L134.9 568.01L135.5 568.01L135.5 569.26L136.1 569.26L136.1 568.64L136.7 568.64L136.7 567.56L137.3 567.56L137.3 566.25L137.9 566.25L137.9 561L138.5 561L138.5 561L139.1 561L139.1 561L139.7 561L139.7 561L140.3 561L140.3 567.11L140.9 567.11L140.9 569.32L141.5 569.32L141.5 569.12L142.1 569.12L142.1 571.47L142.7 571.47L142.7 573.61L143.3 573.61L143.3 578.73L143.9 578.73L143.9 593.72L144.5 593.72L144.5 592.89L145.1 592.89L145.1 597.52L145.7 597.52L145.7 611.62L146.3 611.62L146.3 613.52L146.9 613.52L146.9 611.8L147.5 611.8L147.5 621.3L148.1 621.3L148.1 621.3Z" fill="#6a6a6a"/>
<rect x="136.35" y="561" width="0.7" height="60.3" fill="#6a6a6a"/>
<rect x="140.15" y="561" width="0.7" height="60.3" fill="#6a6a6a"/>
<rect x="143.75" y="577.28" width="0.7" height="44.02" fill="#6a6a6a"/>
<rect x="151.25" y="603.21" width="0.7" height="18.09" fill="#6a6a6a"/>
<rect x="154.05" y="612.25" width="0.7" height="9.04" fill="#6a6a6a"/>
<rect x="156.95" y="612.25" width="0.7" height="9.04" fill="#6a6a6a"/>
<rect x="163.25" y="612.25" width="0.7" height="9.04" fill="#6a6a6a"/>
<path d="M69.4 682.4L69.4 680.18L70 680.18L70 675.39L70.6 675.39L70.6 670.16L71.2 670.16L71.2 665.62L71.8 665.62L71.8 661.66L72.4 661.66L72.4 660.46L73 660.46L73 656.47L73.6 656.47L73.6 660.95L74.2 660.95L74.2 654.95L74.8 654.95L74.8 648.2L75.4 648.2L75.4 647.45L76 647.45L76 642.39L76.6 642.39L76.6 645.53L77.2 645.53L77.2 639.65L77.8 639.65L77.8 638.33L78.4 638.33L78.4 632.92L79 632.92L79 629.61L79.6 629.61L79.6 630.96L80.2 630.96L80.2 630.38L80.8 630.38L80.8 632.96L81.4 632.96L81.4 631.01L82 631.01L82 635.27L82.6 635.27L82.6 643.11L83.2 643.11L83.2 641.16L83.8 641.16L83.8 649.42L84.4 649.42L84.4 648.72L85 648.72L85 655.66L85.6 655.66L85.6 659.8L86.2 659.8L86.2 656.19L86.8 656.19L86.8 664.66L87.4 664.66L87.4 667.62L88 667.62L88 666.47L88.6 666.47L88.6 672.83L89.2 672.83L89.2 679.38L89.8 679.38L89.8 682.4L90.4 682.4L90.4 682.4Z" fill="#6a6a6a"/>
<rect x="98.65" y="675.64" width="0.7" height="6.76" fill="#6a6a6a"/>
<rect x="65.65" y="679.59" width="0.7" height="2.81" fill="#6a6a6a"/>
<rect x="67.15" y="679.59" width="0.7" height="2.81" fill="#6a6a6a"/>
<path d="M125.6 682.4L125.6 681.08L126.2 681.08L126.2 677.97L126.8 677.97L126.8 674.93L127.4 674.93L127.4 673.25L128 673.25L128 671.74L128.6 671.74L128.6 670.96L129.2 670.96L129.2 663.37L129.8 663.37L129.8 661.49L130.4 661.49L130.4 655.8L131 655.8L131 655.59L131.6 655.59L131.6 648.29L132.2 648.29L132.2 647.87L132.8 647.87L132.8 639.13L133.4 639.13L133.4 635.26L134 635.26L134 633.36L134.6 633.36L134.6 627.9L135.2 627.9L135.2 624.5L135.8 624.5L135.8 631.39L136.4 631.39L136.4 632.25L137 632.25L137 633.98L137.6 633.98L137.6 642.13L138.2 642.13L138.2 641.55L138.8 641.55L138.8 646.28L139.4 646.28L139.4 648.77L140 648.77L140 655.63L140.6 655.63L140.6 659.3L141.2 659.3L141.2 655.27L141.8 655.27L141.8 656.94L142.4 656.94L142.4 661.56L143 661.56L143 666.11L143.6 666.11L143.6 666.79L144.2 666.79L144.2 665.31L144.8 665.31L144.8 669.19L145.4 669.19L145.4 669.67L146 669.67L146 675.22L146.6 675.22L146.6 679.65L147.2 679.65L147.2 682.4L147.8 682.4L147.8 682.4Z" fill="#6a6a6a"/>
<rect x="153.85" y="677.77" width="0.7" height="4.63" fill="#6a6a6a"/>
<path d="M33.3 498.6H200.5V683.1H33.3Z" stroke="#585858" stroke-width="0.9" fill="none"/>
<path d="M33.3 560.6L200.5 560.6" stroke="#585858" stroke-width="0.9"/>
<path d="M33.3 621.5L200.5 621.5" stroke="#585858" stroke-width="0.9"/>
<path d="M116.6 498.6L116.6 683.1" stroke="#585858" stroke-width="0.9"/>
<path d="M65.3 498.6L65.3 560.6" stroke="#444" stroke-width="0.9"/>
<path d="M147 498.6L147 560.6" stroke="#444" stroke-width="0.9"/>
<path d="M33.3 541.2L65.3 541.2" stroke="#444" stroke-width="0.9"/>
<path d="M116.6 541.2L147 541.2" stroke="#444" stroke-width="0.9"/>
<path d="M65.3 560.6L65.3 621.5" stroke="#444" stroke-width="0.9"/>
<path d="M147.7 560.6L147.7 621.5" stroke="#444" stroke-width="0.9"/>
<path d="M33.3 609.6L65.3 609.6" stroke="#444" stroke-width="0.9"/>
<path d="M116.6 608.9L147.7 608.9" stroke="#444" stroke-width="0.9"/>
<path d="M65.4 621.5L65.4 683.1" stroke="#444" stroke-width="0.9"/>
<path d="M148.1 621.5L148.1 683.1" stroke="#444" stroke-width="0.9"/>
<path d="M33.3 668.8L65.4 668.8" stroke="#444" stroke-width="0.9"/>
<path d="M116.6 668.8L148.1 668.8" stroke="#444" stroke-width="0.9"/>
<path d="M32.1 500L33.3 500" stroke="#999" stroke-width="0.6"/>
<path d="M32.1 503L33.3 503" stroke="#999" stroke-width="0.6"/>
<path d="M32.1 506L33.3 506" stroke="#999" stroke-width="0.6"/>
<path d="M32.1 509L33.3 509" stroke="#999" stroke-width="0.6"/>
<path d="M32.1 512L33.3 512" stroke="#999" stroke-width="0.6"/>
<path d="M32.1 515L33.3 515" stroke="#999" stroke-width="0.6"/>
<path d="M32.1 518L33.3 518" stroke="#999" stroke-width="0.6"/>
<path d="M32.1 521L33.3 521" stroke="#999" stroke-width="0.6"/>
<path d="M32.1 524L33.3 524" stroke="#999" stroke-width="0.6"/>
<path d="M32.1 527L33.3 527" stroke="#999" stroke-width="0.6"/>
<path d="M32.1 530L33.3 530" stroke="#999" stroke-width="0.6"/>
<path d="M32.1 533L33.3 533" stroke="#999" stroke-width="0.6"/>
<path d="M32.1 536L33.3 536" stroke="#999" stroke-width="0.6"/>
<path d="M32.1 539L33.3 539" stroke="#999" stroke-width="0.6"/>
<path d="M32.1 542L33.3 542" stroke="#999" stroke-width="0.6"/>
<path d="M32.1 545L33.3 545" stroke="#999" stroke-width="0.6"/>
<path d="M32.1 548L33.3 548" stroke="#999" stroke-width="0.6"/>
<path d="M32.1 551L33.3 551" stroke="#999" stroke-width="0.6"/>
<path d="M32.1 554L33.3 554" stroke="#999" stroke-width="0.6"/>
<path d="M32.1 557L33.3 557" stroke="#999" stroke-width="0.6"/>
<path d="M32.1 560L33.3 560" stroke="#999" stroke-width="0.6"/>
<path d="M32.1 563L33.3 563" stroke="#999" stroke-width="0.6"/>
<path d="M32.1 566L33.3 566" stroke="#999" stroke-width="0.6"/>
<path d="M32.1 569L33.3 569" stroke="#999" stroke-width="0.6"/>
<path d="M32.1 572L33.3 572" stroke="#999" stroke-width="0.6"/>
<path d="M32.1 575L33.3 575" stroke="#999" stroke-width="0.6"/>
<path d="M32.1 578L33.3 578" stroke="#999" stroke-width="0.6"/>
<path d="M32.1 581L33.3 581" stroke="#999" stroke-width="0.6"/>
<path d="M32.1 584L33.3 584" stroke="#999" stroke-width="0.6"/>
<path d="M32.1 587L33.3 587" stroke="#999" stroke-width="0.6"/>
<path d="M32.1 590L33.3 590" stroke="#999" stroke-width="0.6"/>
<path d="M32.1 593L33.3 593" stroke="#999" stroke-width="0.6"/>
<path d="M32.1 596L33.3 596" stroke="#999" stroke-width="0.6"/>
<path d="M32.1 599L33.3 599" stroke="#999" stroke-width="0.6"/>
<path d="M32.1 602L33.3 602" stroke="#999" stroke-width="0.6"/>
<path d="M32.1 605L33.3 605" stroke="#999" stroke-width="0.6"/>
<path d="M32.1 608L33.3 608" stroke="#999" stroke-width="0.6"/>
<path d="M32.1 611L33.3 611" stroke="#999" stroke-width="0.6"/>
<path d="M32.1 614L33.3 614" stroke="#999" stroke-width="0.6"/>
<path d="M32.1 617L33.3 617" stroke="#999" stroke-width="0.6"/>
<path d="M32.1 620L33.3 620" stroke="#999" stroke-width="0.6"/>
<path d="M32.1 623L33.3 623" stroke="#999" stroke-width="0.6"/>
<path d="M32.1 626L33.3 626" stroke="#999" stroke-width="0.6"/>
<path d="M32.1 629L33.3 629" stroke="#999" stroke-width="0.6"/>
<path d="M32.1 632L33.3 632" stroke="#999" stroke-width="0.6"/>
<path d="M32.1 635L33.3 635" stroke="#999" stroke-width="0.6"/>
<path d="M32.1 638L33.3 638" stroke="#999" stroke-width="0.6"/>
<path d="M32.1 641L33.3 641" stroke="#999" stroke-width="0.6"/>
<path d="M32.1 644L33.3 644" stroke="#999" stroke-width="0.6"/>
<path d="M32.1 647L33.3 647" stroke="#999" stroke-width="0.6"/>
<path d="M32.1 650L33.3 650" stroke="#999" stroke-width="0.6"/>
<path d="M32.1 653L33.3 653" stroke="#999" stroke-width="0.6"/>
<path d="M32.1 656L33.3 656" stroke="#999" stroke-width="0.6"/>
<path d="M32.1 659L33.3 659" stroke="#999" stroke-width="0.6"/>
<path d="M32.1 662L33.3 662" stroke="#999" stroke-width="0.6"/>
<path d="M32.1 665L33.3 665" stroke="#999" stroke-width="0.6"/>
<path d="M32.1 668L33.3 668" stroke="#999" stroke-width="0.6"/>
<path d="M32.1 671L33.3 671" stroke="#999" stroke-width="0.6"/>
<path d="M32.1 674L33.3 674" stroke="#999" stroke-width="0.6"/>
<path d="M32.1 677L33.3 677" stroke="#999" stroke-width="0.6"/>
<path d="M32.1 680L33.3 680" stroke="#999" stroke-width="0.6"/>
<path d="M35 683.1L35 684.1" stroke="#999" stroke-width="0.6"/>
<path d="M39 683.1L39 684.1" stroke="#999" stroke-width="0.6"/>
<path d="M43 683.1L43 684.1" stroke="#999" stroke-width="0.6"/>
<path d="M47 683.1L47 684.1" stroke="#999" stroke-width="0.6"/>
<path d="M51 683.1L51 684.1" stroke="#999" stroke-width="0.6"/>
<path d="M55 683.1L55 684.1" stroke="#999" stroke-width="0.6"/>
<path d="M59 683.1L59 684.1" stroke="#999" stroke-width="0.6"/>
<path d="M63 683.1L63 684.1" stroke="#999" stroke-width="0.6"/>
<path d="M67 683.1L67 684.1" stroke="#999" stroke-width="0.6"/>
<path d="M71 683.1L71 684.1" stroke="#999" stroke-width="0.6"/>
<path d="M75 683.1L75 684.1" stroke="#999" stroke-width="0.6"/>
<path d="M79 683.1L79 684.1" stroke="#999" stroke-width="0.6"/>
<path d="M83 683.1L83 684.1" stroke="#999" stroke-width="0.6"/>
<path d="M87 683.1L87 684.1" stroke="#999" stroke-width="0.6"/>
<path d="M91 683.1L91 684.1" stroke="#999" stroke-width="0.6"/>
<path d="M95 683.1L95 684.1" stroke="#999" stroke-width="0.6"/>
<path d="M99 683.1L99 684.1" stroke="#999" stroke-width="0.6"/>
<path d="M103 683.1L103 684.1" stroke="#999" stroke-width="0.6"/>
<path d="M107 683.1L107 684.1" stroke="#999" stroke-width="0.6"/>
<path d="M111 683.1L111 684.1" stroke="#999" stroke-width="0.6"/>
<path d="M115 683.1L115 684.1" stroke="#999" stroke-width="0.6"/>
<path d="M119 683.1L119 684.1" stroke="#999" stroke-width="0.6"/>
<path d="M123 683.1L123 684.1" stroke="#999" stroke-width="0.6"/>
<path d="M127 683.1L127 684.1" stroke="#999" stroke-width="0.6"/>
<path d="M131 683.1L131 684.1" stroke="#999" stroke-width="0.6"/>
<path d="M135 683.1L135 684.1" stroke="#999" stroke-width="0.6"/>
<path d="M139 683.1L139 684.1" stroke="#999" stroke-width="0.6"/>
<path d="M143 683.1L143 684.1" stroke="#999" stroke-width="0.6"/>
<path d="M147 683.1L147 684.1" stroke="#999" stroke-width="0.6"/>
<path d="M151 683.1L151 684.1" stroke="#999" stroke-width="0.6"/>
<path d="M155 683.1L155 684.1" stroke="#999" stroke-width="0.6"/>
<path d="M159 683.1L159 684.1" stroke="#999" stroke-width="0.6"/>
<path d="M163 683.1L163 684.1" stroke="#999" stroke-width="0.6"/>
<path d="M167 683.1L167 684.1" stroke="#999" stroke-width="0.6"/>
<path d="M171 683.1L171 684.1" stroke="#999" stroke-width="0.6"/>
<path d="M175 683.1L175 684.1" stroke="#999" stroke-width="0.6"/>
<path d="M179 683.1L179 684.1" stroke="#999" stroke-width="0.6"/>
<path d="M183 683.1L183 684.1" stroke="#999" stroke-width="0.6"/>
<path d="M187 683.1L187 684.1" stroke="#999" stroke-width="0.6"/>
<path d="M191 683.1L191 684.1" stroke="#999" stroke-width="0.6"/>
<path d="M195 683.1L195 684.1" stroke="#999" stroke-width="0.6"/>
<path d="M199 683.1L199 684.1" stroke="#999" stroke-width="0.6"/>
<text x="78.2" y="479.2" font-size="8.1" class="b">CD45.1 Wild Type</text>
<text x="109" y="488.3" font-size="7.9" class="b">vs</text>
<text x="46.3" y="495.1" font-size="8.3" class="b">CD45.2 <tspan font-style="italic">Mysm1</tspan><tspan font-size="4.8" dy="-3.3">-/-</tspan></text>
<text x="116.4" y="495.1" font-size="8.3" class="b">CD45.2 <tspan font-style="italic">Mysm1</tspan><tspan font-size="4.8" dy="-3.3">-/-</tspan><tspan dy="3.3" font-style="italic"> p53</tspan><tspan font-size="4.8" dy="-3.3">-/-</tspan></text>
<text x="4" y="529.7" font-size="7.8" class="b">LT-HSC</text>
<text x="4.3" y="597.5" font-size="7.8" class="b">ST-HSC</text>
<text x="6.7" y="653.3" font-size="7.9" class="b">MPPs</text>
<path d="M32.7 691.9H82.6" stroke="#111" stroke-width="1.2" fill="none"/>
<path d="M79.8 689.7L84.0 691.9L79.8 694.1Z" stroke="#111" stroke-width="0.6" fill="#111"/>
<text x="86.4" y="694.6" font-size="7.3" class="b">CD45.1</text>
<text x="0.8" y="11.5" font-size="15.5" class="b">A</text>
<text x="274.6" y="11.1" font-size="15.5" class="b">B</text>
<text x="0.6" y="251.4" font-size="15.5" class="b">C</text>
<text x="240.1" y="240" font-size="15.5" class="b">D</text>
<text x="239.8" y="359.3" font-size="15.5" class="b">E</text>
<text x="0.3" y="482.4" font-size="15.5" class="b">F</text>
<text x="240.5" y="477.3" font-size="15.5" class="b">G</text>
<text x="208.1" y="590.6" font-size="15.5" class="b">H</text>
<path d="M356.2 8.65L356.2 85.4L432.5 85.4" stroke="#000" stroke-width="1.2349999999999999" fill="none"/>
<path d="M354 85.4L356.2 85.4" stroke="#000" stroke-width="0.9"/>
<text x="353.8" y="87.56" font-size="6.0" class="tk" text-anchor="end">0</text>
<path d="M354 59.98L356.2 59.98" stroke="#000" stroke-width="0.9"/>
<text x="353.8" y="62.14" font-size="6.0" class="tk" text-anchor="end">20</text>
<path d="M354 34.57L356.2 34.57" stroke="#000" stroke-width="0.9"/>
<text x="353.8" y="36.73" font-size="6.0" class="tk" text-anchor="end">40</text>
<path d="M354 9.15L356.2 9.15" stroke="#000" stroke-width="0.9"/>
<text x="353.8" y="11.31" font-size="6.0" class="tk" text-anchor="end">60</text>
<rect x="359.95" y="41.7" width="11.8" height="43.7" fill="#fff" stroke="#000" stroke-width="1.3"/>
<path d="M365.85 85.4L365.85 87.4" stroke="#000" stroke-width="0.9"/>
<path d="M365.85 39.7L365.85 44.4" stroke="#000" stroke-width="1.3"/>
<path d="M361.92 39.7L369.78 39.7" stroke="#000" stroke-width="1.3"/>
<path d="M361.92 44.4L369.78 44.4" stroke="#000" stroke-width="1.3"/>
<rect x="378.85" y="44.1" width="12.1" height="41.3" fill="#fff" stroke="#000" stroke-width="1.3"/>
<path d="M384.9 85.4L384.9 87.4" stroke="#000" stroke-width="0.9"/>
<path d="M384.9 38.6L384.9 50" stroke="#000" stroke-width="1.3"/>
<path d="M380.88 38.6L388.92 38.6" stroke="#000" stroke-width="1.3"/>
<path d="M380.88 50L388.92 50" stroke="#000" stroke-width="1.3"/>
<rect x="397.95" y="81.3" width="12.8" height="4.1" fill="#fff" stroke="#000" stroke-width="1.3"/>
<path d="M404.35 85.4L404.35 87.4" stroke="#000" stroke-width="0.9"/>
<path d="M404.35 80.9L404.35 81.7" stroke="#000" stroke-width="1.3"/>
<path d="M400.12 80.9L408.58 80.9" stroke="#000" stroke-width="1.3"/>
<path d="M400.12 81.7L408.58 81.7" stroke="#000" stroke-width="1.3"/>
<rect x="417.25" y="32.3" width="12.2" height="53.1" fill="#fff" stroke="#000" stroke-width="1.3"/>
<path d="M423.35 85.4L423.35 87.4" stroke="#000" stroke-width="0.9"/>
<path d="M423.35 28.7L423.35 36.1" stroke="#000" stroke-width="1.3"/>
<path d="M419.3 28.7L427.4 28.7" stroke="#000" stroke-width="1.3"/>
<path d="M419.3 36.1L427.4 36.1" stroke="#000" stroke-width="1.3"/>
<text x="358.4" y="6.4" font-size="7.3" class="b">MPP</text>
<text transform="translate(341.3,46.4) rotate(-90)" font-size="6.0" class="yl" text-anchor="middle">% of KLS</text>
<path d="M365.9 17.5L365.9 14.3L423.3 14.3L423.3 17.5" stroke="#000" stroke-width="1.1" fill="none"/>
<path d="M365.9 24.8L365.9 21.5L404.3 21.5L404.3 24.8" stroke="#000" stroke-width="1.1" fill="none"/>
<path d="M404.3 24.8L404.3 21.5L423.3 21.5L423.3 24.8" stroke="#000" stroke-width="1.1" fill="none"/>
<text x="394.5" y="13.5" font-size="4.3" class="b" text-anchor="middle">NS</text>
<text x="385.4" y="21.7" font-size="6.1" class="b" text-anchor="middle">****</text>
<text x="414.4" y="21.7" font-size="6.1" class="b" text-anchor="middle">****</text>
<text x="338.9" y="92.4" font-size="6.0" class="bi">p53:</text>
<text x="365.9" y="92.4" font-size="4.6" class="xl" text-anchor="middle">+/+</text>
<text x="384.9" y="92.4" font-size="4.6" class="xl" text-anchor="middle">-/-</text>
<text x="404.3" y="92.4" font-size="4.6" class="xl" text-anchor="middle">+/+</text>
<text x="423.3" y="92.4" font-size="4.6" class="xl" text-anchor="middle">-/-</text>
<path d="M357.1 94.5L392.4 94.5" stroke="#000" stroke-width="0.9"/>
<path d="M395.2 94.5L432 94.5" stroke="#000" stroke-width="0.9"/>
<text x="373.8" y="101.3" font-size="6.0" class="bi" text-anchor="middle">Mysm1<tspan font-size="3.6" dy="-2.4">+/+</tspan></text>
<text x="413.8" y="101.3" font-size="6.0" class="bi" text-anchor="middle">Mysm1<tspan font-size="3.6" dy="-2.4">-/-</tspan></text>
<path d="M301.9 119.9L301.9 196.4L379 196.4" stroke="#000" stroke-width="1.2349999999999999" fill="none"/>
<path d="M299.7 196.4L301.9 196.4" stroke="#000" stroke-width="0.9"/>
<text x="299.5" y="198.56" font-size="6.0" class="tk" text-anchor="end">0</text>
<path d="M299.7 181.2L301.9 181.2" stroke="#000" stroke-width="0.9"/>
<text x="299.5" y="183.36" font-size="6.0" class="tk" text-anchor="end">20</text>
<path d="M299.7 166L301.9 166" stroke="#000" stroke-width="0.9"/>
<text x="299.5" y="168.16" font-size="6.0" class="tk" text-anchor="end">40</text>
<path d="M299.7 150.8L301.9 150.8" stroke="#000" stroke-width="0.9"/>
<text x="299.5" y="152.96" font-size="6.0" class="tk" text-anchor="end">60</text>
<path d="M299.7 135.6L301.9 135.6" stroke="#000" stroke-width="0.9"/>
<text x="299.5" y="137.76" font-size="6.0" class="tk" text-anchor="end">80</text>
<path d="M299.7 120.4L301.9 120.4" stroke="#000" stroke-width="0.9"/>
<text x="299.5" y="122.56" font-size="6.0" class="tk" text-anchor="end">100</text>
<rect x="306.05" y="175.2" width="12" height="21.2" fill="#fff" stroke="#000" stroke-width="1.3"/>
<path d="M312.05 196.4L312.05 198.4" stroke="#000" stroke-width="0.9"/>
<path d="M312.05 171.4L312.05 179" stroke="#000" stroke-width="1.3"/>
<path d="M308.06 171.4L316.04 171.4" stroke="#000" stroke-width="1.3"/>
<path d="M308.06 179L316.04 179" stroke="#000" stroke-width="1.3"/>
<rect x="325.05" y="174" width="12" height="22.4" fill="#fff" stroke="#000" stroke-width="1.3"/>
<path d="M331.05 196.4L331.05 198.4" stroke="#000" stroke-width="0.9"/>
<path d="M331.05 172.4L331.05 175.9" stroke="#000" stroke-width="1.3"/>
<path d="M327.06 172.4L335.04 172.4" stroke="#000" stroke-width="1.3"/>
<path d="M327.06 175.9L335.04 175.9" stroke="#000" stroke-width="1.3"/>
<rect x="344.15" y="154.4" width="12" height="42" fill="#fff" stroke="#000" stroke-width="1.3"/>
<path d="M350.15 196.4L350.15 198.4" stroke="#000" stroke-width="0.9"/>
<path d="M350.15 146.3L350.15 163.1" stroke="#000" stroke-width="1.3"/>
<path d="M346.16 146.3L354.14 146.3" stroke="#000" stroke-width="1.3"/>
<path d="M346.16 163.1L354.14 163.1" stroke="#000" stroke-width="1.3"/>
<rect x="363.15" y="179.2" width="12" height="17.2" fill="#fff" stroke="#000" stroke-width="1.3"/>
<path d="M369.15 196.4L369.15 198.4" stroke="#000" stroke-width="0.9"/>
<path d="M369.15 177.8L369.15 180.6" stroke="#000" stroke-width="1.3"/>
<path d="M365.16 177.8L373.14 177.8" stroke="#000" stroke-width="1.3"/>
<path d="M365.16 180.6L373.14 180.6" stroke="#000" stroke-width="1.3"/>
<text x="304" y="117.7" font-size="7.3" class="b">LT-HSC</text>
<text transform="translate(288.4,158.1) rotate(-90)" font-size="6.0" class="yl" text-anchor="middle">% of KLS</text>
<path d="M312 132.8L312 129.8L369.1 129.8L369.1 132.8" stroke="#000" stroke-width="1.1" fill="none"/>
<path d="M312 139.8L312 137.1L350.2 137.1L350.2 139.8" stroke="#000" stroke-width="1.1" fill="none"/>
<path d="M350.2 139.8L350.2 137.1L369.1 137.1L369.1 139.8" stroke="#000" stroke-width="1.1" fill="none"/>
<text x="341" y="128.4" font-size="4.2" class="b" text-anchor="middle">NS</text>
<text x="331.6" y="137.3" font-size="6.1" class="b" text-anchor="middle">*</text>
<text x="360.2" y="137.3" font-size="6.1" class="b" text-anchor="middle">**</text>
<text x="285.6" y="204.4" font-size="6.0" class="bi">p53:</text>
<text x="312" y="204.4" font-size="4.6" class="xl" text-anchor="middle">+/+</text>
<text x="331" y="204.4" font-size="4.6" class="xl" text-anchor="middle">-/-</text>
<text x="350.2" y="204.4" font-size="4.6" class="xl" text-anchor="middle">+/+</text>
<text x="369.2" y="204.4" font-size="4.6" class="xl" text-anchor="middle">-/-</text>
<path d="M303.7 206.2L339.5 206.2" stroke="#000" stroke-width="0.9"/>
<path d="M342.5 206.2L378 206.2" stroke="#000" stroke-width="0.9"/>
<text x="319.5" y="212.6" font-size="6.0" class="bi" text-anchor="middle">Mysm1<tspan font-size="3.6" dy="-2.4">+/+</tspan></text>
<text x="358.5" y="212.6" font-size="6.0" class="bi" text-anchor="middle">Mysm1<tspan font-size="3.6" dy="-2.4">-/-</tspan></text>
<path d="M411.8 120.9L411.8 197.2L489 197.2" stroke="#000" stroke-width="1.2349999999999999" fill="none"/>
<path d="M409.6 197.2L411.8 197.2" stroke="#000" stroke-width="0.9"/>
<text x="409.4" y="199.36" font-size="6.0" class="tk" text-anchor="end">0</text>
<path d="M409.6 171.93L411.8 171.93" stroke="#000" stroke-width="0.9"/>
<text x="409.4" y="174.09" font-size="6.0" class="tk" text-anchor="end">20</text>
<path d="M409.6 146.67L411.8 146.67" stroke="#000" stroke-width="0.9"/>
<text x="409.4" y="148.83" font-size="6.0" class="tk" text-anchor="end">40</text>
<path d="M409.6 121.4L411.8 121.4" stroke="#000" stroke-width="0.9"/>
<text x="409.4" y="123.56" font-size="6.0" class="tk" text-anchor="end">60</text>
<rect x="416.25" y="155.5" width="11.7" height="41.7" fill="#fff" stroke="#000" stroke-width="1.3"/>
<path d="M422.1 197.2L422.1 199.2" stroke="#000" stroke-width="0.9"/>
<path d="M422.1 151.7L422.1 159.2" stroke="#000" stroke-width="1.3"/>
<path d="M418.2 151.7L426 151.7" stroke="#000" stroke-width="1.3"/>
<path d="M418.2 159.2L426 159.2" stroke="#000" stroke-width="1.3"/>
<rect x="434.95" y="158.1" width="12" height="39.1" fill="#fff" stroke="#000" stroke-width="1.3"/>
<path d="M440.95 197.2L440.95 199.2" stroke="#000" stroke-width="0.9"/>
<path d="M440.95 153.8L440.95 162.6" stroke="#000" stroke-width="1.3"/>
<path d="M436.96 153.8L444.94 153.8" stroke="#000" stroke-width="1.3"/>
<path d="M436.96 162.6L444.94 162.6" stroke="#000" stroke-width="1.3"/>
<rect x="454.35" y="152.1" width="11.6" height="45.1" fill="#fff" stroke="#000" stroke-width="1.3"/>
<path d="M460.15 197.2L460.15 199.2" stroke="#000" stroke-width="0.9"/>
<path d="M460.15 137.9L460.15 165.9" stroke="#000" stroke-width="1.3"/>
<path d="M456.28 137.9L464.02 137.9" stroke="#000" stroke-width="1.3"/>
<path d="M456.28 165.9L464.02 165.9" stroke="#000" stroke-width="1.3"/>
<rect x="473.35" y="159.5" width="12" height="37.7" fill="#fff" stroke="#000" stroke-width="1.3"/>
<path d="M479.35 197.2L479.35 199.2" stroke="#000" stroke-width="0.9"/>
<path d="M479.35 157.4L479.35 161.2" stroke="#000" stroke-width="1.3"/>
<path d="M475.36 157.4L483.34 157.4" stroke="#000" stroke-width="1.3"/>
<path d="M475.36 161.2L483.34 161.2" stroke="#000" stroke-width="1.3"/>
<text x="412.3" y="117.2" font-size="7.3" class="b">ST-HSC</text>
<text transform="translate(399.1,158.7) rotate(-90)" font-size="6.0" class="yl" text-anchor="middle">% of KLS</text>
<path d="M422.1 129.2L422.1 126.3L479.3 126.3L479.3 129.2" stroke="#000" stroke-width="1.1" fill="none"/>
<path d="M422.1 135.8L422.1 132.7L460.1 132.7L460.1 135.8" stroke="#000" stroke-width="1.1" fill="none"/>
<path d="M460.1 135.8L460.1 132.7L479.3 132.7L479.3 135.8" stroke="#000" stroke-width="1.1" fill="none"/>
<text x="450.2" y="124.9" font-size="4.2" class="b" text-anchor="middle">NS</text>
<text x="441.5" y="131.3" font-size="4.2" class="b" text-anchor="middle">NS</text>
<text x="469.2" y="131.3" font-size="4.2" class="b" text-anchor="middle">NS</text>
<text x="393.5" y="205.2" font-size="6.0" class="bi">p53:</text>
<text x="422.1" y="205.2" font-size="4.6" class="xl" text-anchor="middle">+/+</text>
<text x="441" y="205.2" font-size="4.6" class="xl" text-anchor="middle">-/-</text>
<text x="460.1" y="205.2" font-size="4.6" class="xl" text-anchor="middle">+/+</text>
<text x="479.3" y="205.2" font-size="4.6" class="xl" text-anchor="middle">-/-</text>
<path d="M412.5 206.6L447 206.6" stroke="#000" stroke-width="0.9"/>
<path d="M451.2 206.6L486.5 206.6" stroke="#000" stroke-width="0.9"/>
<text x="429.5" y="213" font-size="6.0" class="bi" text-anchor="middle">Mysm1<tspan font-size="3.6" dy="-2.4">+/+</tspan></text>
<text x="468.5" y="213" font-size="6.0" class="bi" text-anchor="middle">Mysm1<tspan font-size="3.6" dy="-2.4">-/-</tspan></text>
<path d="M273.6 253.8L273.6 329.8L323.1 329.8" stroke="#000" stroke-width="1.0924999999999998" fill="none"/>
<path d="M271.4 329.8L273.6 329.8" stroke="#000" stroke-width="0.9"/>
<text x="271.2" y="331.96" font-size="6.0" class="tk" text-anchor="end">0</text>
<path d="M271.4 314.7L273.6 314.7" stroke="#000" stroke-width="0.9"/>
<text x="271.2" y="316.86" font-size="6.0" class="tk" text-anchor="end">20</text>
<path d="M271.4 299.6L273.6 299.6" stroke="#000" stroke-width="0.9"/>
<text x="271.2" y="301.76" font-size="6.0" class="tk" text-anchor="end">40</text>
<path d="M271.4 284.5L273.6 284.5" stroke="#000" stroke-width="0.9"/>
<text x="271.2" y="286.66" font-size="6.0" class="tk" text-anchor="end">60</text>
<path d="M271.4 269.4L273.6 269.4" stroke="#000" stroke-width="0.9"/>
<text x="271.2" y="271.56" font-size="6.0" class="tk" text-anchor="end">80</text>
<path d="M271.4 254.3L273.6 254.3" stroke="#000" stroke-width="0.9"/>
<text x="271.2" y="256.46" font-size="6.0" class="tk" text-anchor="end">100</text>
<rect x="276.77" y="329" width="10.35" height="0.8" fill="#fff" stroke="#000" stroke-width="1.15"/>
<path d="M281.95 329.8L281.95 331.8" stroke="#000" stroke-width="0.9"/>
<rect x="293.38" y="292" width="10.65" height="37.8" fill="#fff" stroke="#000" stroke-width="1.15"/>
<path d="M298.7 329.8L298.7 331.8" stroke="#000" stroke-width="0.9"/>
<path d="M298.7 286.2L298.7 297.7" stroke="#000" stroke-width="1.15"/>
<path d="M295.16 286.2L302.24 286.2" stroke="#000" stroke-width="1.15"/>
<path d="M295.16 297.7L302.24 297.7" stroke="#000" stroke-width="1.15"/>
<rect x="310.27" y="263.8" width="10.65" height="66" fill="#fff" stroke="#000" stroke-width="1.15"/>
<path d="M315.6 329.8L315.6 331.8" stroke="#000" stroke-width="0.9"/>
<path d="M315.6 263.2L315.6 264.4" stroke="#000" stroke-width="1.15"/>
<path d="M312.06 263.2L319.14 263.2" stroke="#000" stroke-width="1.15"/>
<path d="M312.06 264.4L319.14 264.4" stroke="#000" stroke-width="1.15"/>
<text x="275.8" y="253.1" font-size="6.300000000000001" class="b" textLength="61.9" lengthAdjust="spacingAndGlyphs">Marrow Myeloid Cells</text>
<text x="256.3" y="338" font-size="6.0" class="bi">p53:</text>
<text x="282" y="338" font-size="5.4" class="xl" text-anchor="middle">+/+</text>
<text x="298.7" y="338" font-size="5.4" class="xl" text-anchor="middle">+/-</text>
<text x="315.6" y="338" font-size="5.4" class="xl" text-anchor="middle">-/-</text>
<text transform="translate(257.82,293) rotate(-90)" font-size="6.048" class="yl" text-anchor="middle">% of <tspan font-style="italic">Mysm1-/-</tspan> cells</text>
<path d="M359.2 254.2L359.2 330L409.4 330" stroke="#000" stroke-width="1.0924999999999998" fill="none"/>
<path d="M357 330L359.2 330" stroke="#000" stroke-width="0.9"/>
<text x="356.8" y="332.16" font-size="6.0" class="tk" text-anchor="end">0</text>
<path d="M357 311.18L359.2 311.18" stroke="#000" stroke-width="0.9"/>
<text x="356.8" y="313.34" font-size="6.0" class="tk" text-anchor="end">20</text>
<path d="M357 292.35L359.2 292.35" stroke="#000" stroke-width="0.9"/>
<text x="356.8" y="294.51" font-size="6.0" class="tk" text-anchor="end">40</text>
<path d="M357 273.52L359.2 273.52" stroke="#000" stroke-width="0.9"/>
<text x="356.8" y="275.69" font-size="6.0" class="tk" text-anchor="end">60</text>
<path d="M357 254.7L359.2 254.7" stroke="#000" stroke-width="0.9"/>
<text x="356.8" y="256.86" font-size="6.0" class="tk" text-anchor="end">80</text>
<rect x="362.38" y="326" width="10.45" height="4" fill="#fff" stroke="#000" stroke-width="1.15"/>
<path d="M367.6 330L367.6 332" stroke="#000" stroke-width="0.9"/>
<rect x="378.88" y="321.7" width="10.95" height="8.3" fill="#fff" stroke="#000" stroke-width="1.15"/>
<path d="M384.35 330L384.35 332" stroke="#000" stroke-width="0.9"/>
<path d="M384.35 320.9L384.35 322.5" stroke="#000" stroke-width="1.15"/>
<path d="M380.72 320.9L387.98 320.9" stroke="#000" stroke-width="1.15"/>
<path d="M380.72 322.5L387.98 322.5" stroke="#000" stroke-width="1.15"/>
<rect x="396.18" y="274.6" width="10.45" height="55.4" fill="#fff" stroke="#000" stroke-width="1.15"/>
<path d="M401.4 330L401.4 332" stroke="#000" stroke-width="0.9"/>
<path d="M401.4 267.7L401.4 280.8" stroke="#000" stroke-width="1.15"/>
<path d="M397.92 267.7L404.88 267.7" stroke="#000" stroke-width="1.15"/>
<path d="M397.92 280.8L404.88 280.8" stroke="#000" stroke-width="1.15"/>
<text x="361.3" y="253.3" font-size="6.300000000000001" class="b" textLength="42.9" lengthAdjust="spacingAndGlyphs">Marrow B cells</text>
<text x="343.3" y="338" font-size="6.0" class="bi">p53:</text>
<text x="367.6" y="338" font-size="5.4" class="xl" text-anchor="middle">+/+</text>
<text x="384.4" y="338" font-size="5.4" class="xl" text-anchor="middle">+/-</text>
<text x="401.4" y="338" font-size="5.4" class="xl" text-anchor="middle">-/-</text>
<path d="M440.4 254.2L440.4 330L491 330" stroke="#000" stroke-width="1.0924999999999998" fill="none"/>
<path d="M438.2 330L440.4 330" stroke="#000" stroke-width="0.9"/>
<text x="438" y="332.16" font-size="6.0" class="tk" text-anchor="end">0</text>
<path d="M438.2 314.94L440.4 314.94" stroke="#000" stroke-width="0.9"/>
<text x="438" y="317.1" font-size="6.0" class="tk" text-anchor="end">10</text>
<path d="M438.2 299.88L440.4 299.88" stroke="#000" stroke-width="0.9"/>
<text x="438" y="302.04" font-size="6.0" class="tk" text-anchor="end">20</text>
<path d="M438.2 284.82L440.4 284.82" stroke="#000" stroke-width="0.9"/>
<text x="438" y="286.98" font-size="6.0" class="tk" text-anchor="end">30</text>
<path d="M438.2 269.76L440.4 269.76" stroke="#000" stroke-width="0.9"/>
<text x="438" y="271.92" font-size="6.0" class="tk" text-anchor="end">40</text>
<path d="M438.2 254.7L440.4 254.7" stroke="#000" stroke-width="0.9"/>
<text x="438" y="256.86" font-size="6.0" class="tk" text-anchor="end">50</text>
<rect x="443.97" y="315.8" width="10.95" height="14.2" fill="#fff" stroke="#000" stroke-width="1.15"/>
<path d="M449.45 330L449.45 332" stroke="#000" stroke-width="0.9"/>
<path d="M449.45 304.4L449.45 328.3" stroke="#000" stroke-width="1.15"/>
<path d="M445.82 304.4L453.08 304.4" stroke="#000" stroke-width="1.15"/>
<path d="M445.82 328.3L453.08 328.3" stroke="#000" stroke-width="1.15"/>
<rect x="460.88" y="327.4" width="10.45" height="2.6" fill="#fff" stroke="#000" stroke-width="1.15"/>
<path d="M466.1 330L466.1 332" stroke="#000" stroke-width="0.9"/>
<path d="M466.1 326.9L466.1 327.9" stroke="#000" stroke-width="1.15"/>
<path d="M462.62 326.9L469.58 326.9" stroke="#000" stroke-width="1.15"/>
<path d="M462.62 327.9L469.58 327.9" stroke="#000" stroke-width="1.15"/>
<rect x="478.18" y="274.6" width="10.45" height="55.4" fill="#fff" stroke="#000" stroke-width="1.15"/>
<path d="M483.4 330L483.4 332" stroke="#000" stroke-width="0.9"/>
<path d="M483.4 260.2L483.4 289.8" stroke="#000" stroke-width="1.15"/>
<path d="M479.92 260.2L486.88 260.2" stroke="#000" stroke-width="1.15"/>
<path d="M479.92 289.8L486.88 289.8" stroke="#000" stroke-width="1.15"/>
<text x="442.8" y="253.3" font-size="6.300000000000001" class="b" textLength="43.0" lengthAdjust="spacingAndGlyphs">Splenic B cells</text>
<text x="424.3" y="338" font-size="6.0" class="bi">p53:</text>
<text x="449.4" y="338" font-size="5.4" class="xl" text-anchor="middle">+/+</text>
<text x="466.1" y="338" font-size="5.4" class="xl" text-anchor="middle">+/-</text>
<text x="483.4" y="338" font-size="5.4" class="xl" text-anchor="middle">-/-</text>
<path d="M274.3 362.9L274.3 439.4L324.2 439.4" stroke="#000" stroke-width="1.0924999999999998" fill="none"/>
<path d="M272.1 439.4L274.3 439.4" stroke="#000" stroke-width="0.9"/>
<text x="271.9" y="441.56" font-size="6.0" class="tk" text-anchor="end">0</text>
<path d="M272.1 424.2L274.3 424.2" stroke="#000" stroke-width="0.9"/>
<text x="271.9" y="426.36" font-size="6.0" class="tk" text-anchor="end">20</text>
<path d="M272.1 409L274.3 409" stroke="#000" stroke-width="0.9"/>
<text x="271.9" y="411.16" font-size="6.0" class="tk" text-anchor="end">40</text>
<path d="M272.1 393.8L274.3 393.8" stroke="#000" stroke-width="0.9"/>
<text x="271.9" y="395.96" font-size="6.0" class="tk" text-anchor="end">60</text>
<path d="M272.1 378.6L274.3 378.6" stroke="#000" stroke-width="0.9"/>
<text x="271.9" y="380.76" font-size="6.0" class="tk" text-anchor="end">80</text>
<path d="M272.1 363.4L274.3 363.4" stroke="#000" stroke-width="0.9"/>
<text x="271.9" y="365.56" font-size="6.0" class="tk" text-anchor="end">100</text>
<rect x="277.57" y="438.2" width="10.65" height="1.2" fill="#fff" stroke="#000" stroke-width="1.15"/>
<path d="M282.9 439.4L282.9 441.4" stroke="#000" stroke-width="0.9"/>
<rect x="294.47" y="438.2" width="10.75" height="1.2" fill="#fff" stroke="#000" stroke-width="1.15"/>
<path d="M299.85 439.4L299.85 441.4" stroke="#000" stroke-width="0.9"/>
<rect x="310.97" y="375.4" width="11.15" height="64" fill="#fff" stroke="#000" stroke-width="1.15"/>
<path d="M316.55 439.4L316.55 441.4" stroke="#000" stroke-width="0.9"/>
<path d="M316.55 373.1L316.55 378.5" stroke="#000" stroke-width="1.15"/>
<path d="M312.86 373.1L320.24 373.1" stroke="#000" stroke-width="1.15"/>
<path d="M312.86 378.5L320.24 378.5" stroke="#000" stroke-width="1.15"/>
<text x="276.5" y="362.6" font-size="6.300000000000001" class="b" textLength="35.4" lengthAdjust="spacingAndGlyphs">Thymocytes</text>
<text x="258" y="448" font-size="6.0" class="bi">p53:</text>
<text x="282.9" y="448" font-size="5.4" class="xl" text-anchor="middle">+/+</text>
<text x="299.8" y="448" font-size="5.4" class="xl" text-anchor="middle">+/-</text>
<text x="316.5" y="448" font-size="5.4" class="xl" text-anchor="middle">-/-</text>
<text transform="translate(258.92,401.4) rotate(-90)" font-size="6.048" class="yl" text-anchor="middle">% of <tspan font-style="italic">Mysm1-/-</tspan> cells</text>
<path d="M361.5 362.8L361.5 439.7L412.3 439.7" stroke="#000" stroke-width="1.0924999999999998" fill="none"/>
<path d="M359.3 439.7L361.5 439.7" stroke="#000" stroke-width="0.9"/>
<text x="359.1" y="441.86" font-size="6.0" class="tk" text-anchor="end">0</text>
<path d="M359.3 420.6L361.5 420.6" stroke="#000" stroke-width="0.9"/>
<text x="359.1" y="422.76" font-size="6.0" class="tk" text-anchor="end">20</text>
<path d="M359.3 401.5L361.5 401.5" stroke="#000" stroke-width="0.9"/>
<text x="359.1" y="403.66" font-size="6.0" class="tk" text-anchor="end">40</text>
<path d="M359.3 382.4L361.5 382.4" stroke="#000" stroke-width="0.9"/>
<text x="359.1" y="384.56" font-size="6.0" class="tk" text-anchor="end">60</text>
<path d="M359.3 363.3L361.5 363.3" stroke="#000" stroke-width="0.9"/>
<text x="359.1" y="365.46" font-size="6.0" class="tk" text-anchor="end">80</text>
<rect x="364.88" y="434.3" width="11.25" height="5.4" fill="#fff" stroke="#000" stroke-width="1.15"/>
<path d="M370.5 439.7L370.5 441.7" stroke="#000" stroke-width="0.9"/>
<path d="M370.5 432.6L370.5 435.6" stroke="#000" stroke-width="1.15"/>
<path d="M366.78 432.6L374.22 432.6" stroke="#000" stroke-width="1.15"/>
<path d="M366.78 435.6L374.22 435.6" stroke="#000" stroke-width="1.15"/>
<rect x="381.97" y="437.4" width="10.95" height="2.3" fill="#fff" stroke="#000" stroke-width="1.15"/>
<path d="M387.45 439.7L387.45 441.7" stroke="#000" stroke-width="0.9"/>
<rect x="398.97" y="392.4" width="10.95" height="47.3" fill="#fff" stroke="#000" stroke-width="1.15"/>
<path d="M404.45 439.7L404.45 441.7" stroke="#000" stroke-width="0.9"/>
<path d="M404.45 379.4L404.45 406.2" stroke="#000" stroke-width="1.15"/>
<path d="M400.82 379.4L408.08 379.4" stroke="#000" stroke-width="1.15"/>
<path d="M400.82 406.2L408.08 406.2" stroke="#000" stroke-width="1.15"/>
<text x="364.2" y="362.5" font-size="6.300000000000001" class="b" textLength="55.1" lengthAdjust="spacingAndGlyphs">Splenic CD4 T cells</text>
<text x="346.4" y="448" font-size="6.0" class="bi">p53:</text>
<text x="370.5" y="448" font-size="5.4" class="xl" text-anchor="middle">+/+</text>
<text x="387.4" y="448" font-size="5.4" class="xl" text-anchor="middle">+/-</text>
<text x="404.4" y="448" font-size="5.4" class="xl" text-anchor="middle">-/-</text>
<path d="M440.8 362.8L440.8 439.7L491.5 439.7" stroke="#000" stroke-width="1.0924999999999998" fill="none"/>
<path d="M438.6 439.7L440.8 439.7" stroke="#000" stroke-width="0.9"/>
<text x="438.4" y="441.86" font-size="6.0" class="tk" text-anchor="end">0</text>
<path d="M438.6 420.6L440.8 420.6" stroke="#000" stroke-width="0.9"/>
<text x="438.4" y="422.76" font-size="6.0" class="tk" text-anchor="end">20</text>
<path d="M438.6 401.5L440.8 401.5" stroke="#000" stroke-width="0.9"/>
<text x="438.4" y="403.66" font-size="6.0" class="tk" text-anchor="end">40</text>
<path d="M438.6 382.4L440.8 382.4" stroke="#000" stroke-width="0.9"/>
<text x="438.4" y="384.56" font-size="6.0" class="tk" text-anchor="end">60</text>
<path d="M438.6 363.3L440.8 363.3" stroke="#000" stroke-width="0.9"/>
<text x="438.4" y="365.46" font-size="6.0" class="tk" text-anchor="end">80</text>
<rect x="444.47" y="434.5" width="10.45" height="5.2" fill="#fff" stroke="#000" stroke-width="1.15"/>
<path d="M449.7 439.7L449.7 441.7" stroke="#000" stroke-width="0.9"/>
<path d="M449.7 432.6L449.7 436" stroke="#000" stroke-width="1.15"/>
<path d="M446.22 432.6L453.18 432.6" stroke="#000" stroke-width="1.15"/>
<path d="M446.22 436L453.18 436" stroke="#000" stroke-width="1.15"/>
<rect x="461.27" y="437.4" width="10.55" height="2.3" fill="#fff" stroke="#000" stroke-width="1.15"/>
<path d="M466.55 439.7L466.55 441.7" stroke="#000" stroke-width="0.9"/>
<rect x="478.18" y="395.3" width="10.85" height="44.4" fill="#fff" stroke="#000" stroke-width="1.15"/>
<path d="M483.6 439.7L483.6 441.7" stroke="#000" stroke-width="0.9"/>
<path d="M483.6 381.5L483.6 409.7" stroke="#000" stroke-width="1.15"/>
<path d="M480 381.5L487.2 381.5" stroke="#000" stroke-width="1.15"/>
<path d="M480 409.7L487.2 409.7" stroke="#000" stroke-width="1.15"/>
<text x="443.4" y="362.5" font-size="6.300000000000001" class="b" textLength="55.9" lengthAdjust="spacingAndGlyphs">Splenic CD8 T cells</text>
<text x="425.2" y="448" font-size="6.0" class="bi">p53:</text>
<text x="449.7" y="448" font-size="5.4" class="xl" text-anchor="middle">+/+</text>
<text x="466.5" y="448" font-size="5.4" class="xl" text-anchor="middle">+/-</text>
<text x="483.6" y="448" font-size="5.4" class="xl" text-anchor="middle">-/-</text>
<path d="M275.9 489.2L275.9 565.6L325.8 565.6" stroke="#000" stroke-width="1.0924999999999998" fill="none"/>
<path d="M273.7 565.6L275.9 565.6" stroke="#000" stroke-width="0.9"/>
<text x="273.5" y="567.76" font-size="6.0" class="tk" text-anchor="end">0</text>
<path d="M273.7 550.42L275.9 550.42" stroke="#000" stroke-width="0.9"/>
<text x="273.5" y="552.58" font-size="6.0" class="tk" text-anchor="end">20</text>
<path d="M273.7 535.24L275.9 535.24" stroke="#000" stroke-width="0.9"/>
<text x="273.5" y="537.4" font-size="6.0" class="tk" text-anchor="end">40</text>
<path d="M273.7 520.06L275.9 520.06" stroke="#000" stroke-width="0.9"/>
<text x="273.5" y="522.22" font-size="6.0" class="tk" text-anchor="end">60</text>
<path d="M273.7 504.88L275.9 504.88" stroke="#000" stroke-width="0.9"/>
<text x="273.5" y="507.04" font-size="6.0" class="tk" text-anchor="end">80</text>
<path d="M273.7 489.7L275.9 489.7" stroke="#000" stroke-width="0.9"/>
<text x="273.5" y="491.86" font-size="6.0" class="tk" text-anchor="end">100</text>
<rect x="278.77" y="561" width="11.05" height="4.6" fill="#fff" stroke="#000" stroke-width="1.15"/>
<path d="M284.3 565.6L284.3 567.6" stroke="#000" stroke-width="0.9"/>
<path d="M284.3 560.3L284.3 561.8" stroke="#000" stroke-width="1.15"/>
<path d="M280.64 560.3L287.96 560.3" stroke="#000" stroke-width="1.15"/>
<path d="M280.64 561.8L287.96 561.8" stroke="#000" stroke-width="1.15"/>
<rect x="296.07" y="551.3" width="10.75" height="14.3" fill="#fff" stroke="#000" stroke-width="1.15"/>
<path d="M301.45 565.6L301.45 567.6" stroke="#000" stroke-width="0.9"/>
<path d="M301.45 547.7L301.45 554.4" stroke="#000" stroke-width="1.15"/>
<path d="M297.88 547.7L305.02 547.7" stroke="#000" stroke-width="1.15"/>
<path d="M297.88 554.4L305.02 554.4" stroke="#000" stroke-width="1.15"/>
<rect x="312.77" y="513.2" width="10.95" height="52.4" fill="#fff" stroke="#000" stroke-width="1.15"/>
<path d="M318.25 565.6L318.25 567.6" stroke="#000" stroke-width="0.9"/>
<path d="M318.25 504.4L318.25 522.2" stroke="#000" stroke-width="1.15"/>
<path d="M314.62 504.4L321.88 504.4" stroke="#000" stroke-width="1.15"/>
<path d="M314.62 522.2L321.88 522.2" stroke="#000" stroke-width="1.15"/>
<text x="277.9" y="490" font-size="7.3" class="b">LT-HSCs</text>
<text x="260.7" y="574.4" font-size="6.0" class="bi">p53:</text>
<text x="284.3" y="574.4" font-size="5.4" class="xl" text-anchor="middle">+/+</text>
<text x="301.4" y="574.4" font-size="5.4" class="xl" text-anchor="middle">+/-</text>
<text x="318.2" y="574.4" font-size="5.4" class="xl" text-anchor="middle">-/-</text>
<text transform="translate(260.62,527.8) rotate(-90)" font-size="6.048" class="yl" text-anchor="middle">% of <tspan font-style="italic">Mysm1-/-</tspan> cells</text>
<text x="277" y="582" font-size="6.8" class="b" textLength="45.6" lengthAdjust="spacingAndGlyphs">KLS CD34<tspan font-size="4" dy="-2.4">-</tspan><tspan dy="2.4">Flt3</tspan><tspan font-size="4" dy="-2.4">-</tspan></text>
<path d="M359.8 489L359.8 565.8L410.1 565.8" stroke="#000" stroke-width="1.0924999999999998" fill="none"/>
<path d="M357.6 565.8L359.8 565.8" stroke="#000" stroke-width="0.9"/>
<text x="357.4" y="567.96" font-size="6.0" class="tk" text-anchor="end">0</text>
<path d="M357.6 550.54L359.8 550.54" stroke="#000" stroke-width="0.9"/>
<text x="357.4" y="552.7" font-size="6.0" class="tk" text-anchor="end">20</text>
<path d="M357.6 535.28L359.8 535.28" stroke="#000" stroke-width="0.9"/>
<text x="357.4" y="537.44" font-size="6.0" class="tk" text-anchor="end">40</text>
<path d="M357.6 520.02L359.8 520.02" stroke="#000" stroke-width="0.9"/>
<text x="357.4" y="522.18" font-size="6.0" class="tk" text-anchor="end">60</text>
<path d="M357.6 504.76L359.8 504.76" stroke="#000" stroke-width="0.9"/>
<text x="357.4" y="506.92" font-size="6.0" class="tk" text-anchor="end">80</text>
<path d="M357.6 489.5L359.8 489.5" stroke="#000" stroke-width="0.9"/>
<text x="357.4" y="491.66" font-size="6.0" class="tk" text-anchor="end">100</text>
<rect x="363.07" y="557" width="11.15" height="8.8" fill="#fff" stroke="#000" stroke-width="1.15"/>
<path d="M368.65 565.8L368.65 567.8" stroke="#000" stroke-width="0.9"/>
<path d="M368.65 556.5L368.65 557.5" stroke="#000" stroke-width="1.15"/>
<path d="M364.96 556.5L372.34 556.5" stroke="#000" stroke-width="1.15"/>
<path d="M364.96 557.5L372.34 557.5" stroke="#000" stroke-width="1.15"/>
<rect x="379.88" y="533.2" width="10.85" height="32.6" fill="#fff" stroke="#000" stroke-width="1.15"/>
<path d="M385.3 565.8L385.3 567.8" stroke="#000" stroke-width="0.9"/>
<path d="M385.3 528.1L385.3 538.3" stroke="#000" stroke-width="1.15"/>
<path d="M381.7 528.1L388.9 528.1" stroke="#000" stroke-width="1.15"/>
<path d="M381.7 538.3L388.9 538.3" stroke="#000" stroke-width="1.15"/>
<rect x="396.57" y="506.4" width="10.95" height="59.4" fill="#fff" stroke="#000" stroke-width="1.15"/>
<path d="M402.05 565.8L402.05 567.8" stroke="#000" stroke-width="0.9"/>
<path d="M402.05 501.4L402.05 511.5" stroke="#000" stroke-width="1.15"/>
<path d="M398.42 501.4L405.68 501.4" stroke="#000" stroke-width="1.15"/>
<path d="M398.42 511.5L405.68 511.5" stroke="#000" stroke-width="1.15"/>
<text x="362" y="489.9" font-size="7.3" class="b">ST-HSCs</text>
<text x="343.6" y="574.6" font-size="6.0" class="bi">p53:</text>
<text x="368.7" y="574.6" font-size="5.4" class="xl" text-anchor="middle">+/+</text>
<text x="385.3" y="574.6" font-size="5.4" class="xl" text-anchor="middle">+/-</text>
<text x="402" y="574.6" font-size="5.4" class="xl" text-anchor="middle">-/-</text>
<text x="361.3" y="582" font-size="6.8" class="b" textLength="47.5" lengthAdjust="spacingAndGlyphs">KLS CD34<tspan font-size="4" dy="-2.4">+</tspan><tspan dy="2.4">Flt3</tspan><tspan font-size="4" dy="-2.4">-</tspan></text>
<path d="M441.7 489L441.7 565.7L492 565.7" stroke="#000" stroke-width="1.0924999999999998" fill="none"/>
<path d="M439.5 565.7L441.7 565.7" stroke="#000" stroke-width="0.9"/>
<text x="439.3" y="567.86" font-size="6.0" class="tk" text-anchor="end">0</text>
<path d="M439.5 550.46L441.7 550.46" stroke="#000" stroke-width="0.9"/>
<text x="439.3" y="552.62" font-size="6.0" class="tk" text-anchor="end">20</text>
<path d="M439.5 535.22L441.7 535.22" stroke="#000" stroke-width="0.9"/>
<text x="439.3" y="537.38" font-size="6.0" class="tk" text-anchor="end">40</text>
<path d="M439.5 519.98L441.7 519.98" stroke="#000" stroke-width="0.9"/>
<text x="439.3" y="522.14" font-size="6.0" class="tk" text-anchor="end">60</text>
<path d="M439.5 504.74L441.7 504.74" stroke="#000" stroke-width="0.9"/>
<text x="439.3" y="506.9" font-size="6.0" class="tk" text-anchor="end">80</text>
<path d="M439.5 489.5L441.7 489.5" stroke="#000" stroke-width="0.9"/>
<text x="439.3" y="491.66" font-size="6.0" class="tk" text-anchor="end">100</text>
<rect x="444.97" y="561.4" width="10.35" height="4.3" fill="#fff" stroke="#000" stroke-width="1.15"/>
<path d="M450.15 565.7L450.15 567.7" stroke="#000" stroke-width="0.9"/>
<path d="M450.15 560.8L450.15 562" stroke="#000" stroke-width="1.15"/>
<path d="M446.7 560.8L453.6 560.8" stroke="#000" stroke-width="1.15"/>
<path d="M446.7 562L453.6 562" stroke="#000" stroke-width="1.15"/>
<rect x="462.38" y="530.8" width="10.55" height="34.9" fill="#fff" stroke="#000" stroke-width="1.15"/>
<path d="M467.65 565.7L467.65 567.7" stroke="#000" stroke-width="0.9"/>
<path d="M467.65 525.6L467.65 536.3" stroke="#000" stroke-width="1.15"/>
<path d="M464.14 525.6L471.16 525.6" stroke="#000" stroke-width="1.15"/>
<path d="M464.14 536.3L471.16 536.3" stroke="#000" stroke-width="1.15"/>
<rect x="478.88" y="497.3" width="10.25" height="68.4" fill="#fff" stroke="#000" stroke-width="1.15"/>
<path d="M484 565.7L484 567.7" stroke="#000" stroke-width="0.9"/>
<path d="M484 493.4L484 501.4" stroke="#000" stroke-width="1.15"/>
<path d="M480.58 493.4L487.42 493.4" stroke="#000" stroke-width="1.15"/>
<path d="M480.58 501.4L487.42 501.4" stroke="#000" stroke-width="1.15"/>
<text x="443.8" y="489.6" font-size="7.3" class="b">MPPs</text>
<text x="426" y="574.6" font-size="6.0" class="bi">p53:</text>
<text x="450.2" y="574.6" font-size="5.4" class="xl" text-anchor="middle">+/+</text>
<text x="467.7" y="574.6" font-size="5.4" class="xl" text-anchor="middle">+/-</text>
<text x="484" y="574.6" font-size="5.4" class="xl" text-anchor="middle">-/-</text>
<text x="443.2" y="582" font-size="6.8" class="b" textLength="49.8" lengthAdjust="spacingAndGlyphs">KLS CD34<tspan font-size="4" dy="-2.4">+</tspan><tspan dy="2.4">Flt3</tspan><tspan font-size="4" dy="-2.4">+</tspan></text>
<path d="M227.7 606.7L227.7 680.9L276.2 680.9" stroke="#000" stroke-width="1.0924999999999998" fill="none"/>
<path d="M225.5 680.9L227.7 680.9" stroke="#000" stroke-width="0.9"/>
<text x="225.3" y="683.06" font-size="6.0" class="tk" text-anchor="end">0</text>
<path d="M225.5 662.48L227.7 662.48" stroke="#000" stroke-width="0.9"/>
<text x="225.3" y="664.63" font-size="6.0" class="tk" text-anchor="end">20</text>
<path d="M225.5 644.05L227.7 644.05" stroke="#000" stroke-width="0.9"/>
<text x="225.3" y="646.21" font-size="6.0" class="tk" text-anchor="end">40</text>
<path d="M225.5 625.62L227.7 625.62" stroke="#000" stroke-width="0.9"/>
<text x="225.3" y="627.78" font-size="6.0" class="tk" text-anchor="end">60</text>
<path d="M225.5 607.2L227.7 607.2" stroke="#000" stroke-width="0.9"/>
<text x="225.3" y="609.36" font-size="6.0" class="tk" text-anchor="end">80</text>
<rect x="232.07" y="656.7" width="9.75" height="24.2" fill="#fff" stroke="#000" stroke-width="1.15"/>
<path d="M236.95 680.9L236.95 682.9" stroke="#000" stroke-width="0.9"/>
<path d="M236.95 654.4L236.95 658.7" stroke="#000" stroke-width="1.15"/>
<path d="M233.68 654.4L240.22 654.4" stroke="#000" stroke-width="1.15"/>
<path d="M233.68 658.7L240.22 658.7" stroke="#000" stroke-width="1.15"/>
<rect x="247.77" y="626.4" width="10.15" height="54.5" fill="#fff" stroke="#000" stroke-width="1.15"/>
<path d="M252.85 680.9L252.85 682.9" stroke="#000" stroke-width="0.9"/>
<path d="M252.85 621.5L252.85 631" stroke="#000" stroke-width="1.15"/>
<path d="M249.46 621.5L256.24 621.5" stroke="#000" stroke-width="1.15"/>
<path d="M249.46 631L256.24 631" stroke="#000" stroke-width="1.15"/>
<rect x="263.77" y="629.8" width="10.45" height="51.1" fill="#fff" stroke="#000" stroke-width="1.15"/>
<path d="M269 680.9L269 682.9" stroke="#000" stroke-width="0.9"/>
<path d="M269 623.6L269 636.2" stroke="#000" stroke-width="1.15"/>
<path d="M265.52 623.6L272.48 623.6" stroke="#000" stroke-width="1.15"/>
<path d="M265.52 636.2L272.48 636.2" stroke="#000" stroke-width="1.15"/>
<text x="231.2" y="607.7" font-size="7.0" class="b">HSCs</text>
<text x="213" y="687.6" font-size="6.0" class="bi">p53:</text>
<text x="237" y="687.6" font-size="5.4" class="xl" text-anchor="middle">+/+</text>
<text x="252.9" y="687.6" font-size="5.4" class="xl" text-anchor="middle">+/-</text>
<text x="269" y="687.6" font-size="5.4" class="xl" text-anchor="middle">-/-</text>
<text transform="translate(215.92,644.9) rotate(-90)" font-size="6.048" class="yl" text-anchor="middle">% of <tspan font-style="italic">Mysm1-/-</tspan> cells</text>
<text x="226" y="697" font-size="6.6" class="b" textLength="55.3" lengthAdjust="spacingAndGlyphs">KLS CD150<tspan font-size="4" dy="-2.4">+</tspan><tspan dy="2.4">CD48</tspan><tspan font-size="4" dy="-2.4">-</tspan></text>
<path d="M306.8 609.9L306.8 681.7L353.6 681.7" stroke="#000" stroke-width="1.0924999999999998" fill="none"/>
<path d="M304.6 681.7L306.8 681.7" stroke="#000" stroke-width="0.9"/>
<text x="304.4" y="683.86" font-size="6.0" class="tk" text-anchor="end">0</text>
<path d="M304.6 667.44L306.8 667.44" stroke="#000" stroke-width="0.9"/>
<text x="304.4" y="669.6" font-size="6.0" class="tk" text-anchor="end">20</text>
<path d="M304.6 653.18L306.8 653.18" stroke="#000" stroke-width="0.9"/>
<text x="304.4" y="655.34" font-size="6.0" class="tk" text-anchor="end">40</text>
<path d="M304.6 638.92L306.8 638.92" stroke="#000" stroke-width="0.9"/>
<text x="304.4" y="641.08" font-size="6.0" class="tk" text-anchor="end">60</text>
<path d="M304.6 624.66L306.8 624.66" stroke="#000" stroke-width="0.9"/>
<text x="304.4" y="626.82" font-size="6.0" class="tk" text-anchor="end">80</text>
<path d="M304.6 610.4L306.8 610.4" stroke="#000" stroke-width="0.9"/>
<text x="304.4" y="612.56" font-size="6.0" class="tk" text-anchor="end">100</text>
<rect x="309.97" y="661" width="10.15" height="20.7" fill="#fff" stroke="#000" stroke-width="1.15"/>
<path d="M315.05 681.7L315.05 683.7" stroke="#000" stroke-width="0.9"/>
<path d="M315.05 658.4L315.05 664.1" stroke="#000" stroke-width="1.15"/>
<path d="M311.66 658.4L318.44 658.4" stroke="#000" stroke-width="1.15"/>
<path d="M311.66 664.1L318.44 664.1" stroke="#000" stroke-width="1.15"/>
<rect x="325.88" y="648.3" width="10.15" height="33.4" fill="#fff" stroke="#000" stroke-width="1.15"/>
<path d="M330.95 681.7L330.95 683.7" stroke="#000" stroke-width="0.9"/>
<path d="M330.95 642.3L330.95 654" stroke="#000" stroke-width="1.15"/>
<path d="M327.56 642.3L334.34 642.3" stroke="#000" stroke-width="1.15"/>
<path d="M327.56 654L334.34 654" stroke="#000" stroke-width="1.15"/>
<rect x="341.97" y="626.9" width="9.75" height="54.8" fill="#fff" stroke="#000" stroke-width="1.15"/>
<path d="M346.85 681.7L346.85 683.7" stroke="#000" stroke-width="0.9"/>
<path d="M346.85 622.5L346.85 631.5" stroke="#000" stroke-width="1.15"/>
<path d="M343.58 622.5L350.12 622.5" stroke="#000" stroke-width="1.15"/>
<path d="M343.58 631.5L350.12 631.5" stroke="#000" stroke-width="1.15"/>
<text x="309.1" y="609.9" font-size="7.0" class="b">MPPs</text>
<text x="292.1" y="688.4" font-size="6.0" class="bi">p53:</text>
<text x="315" y="688.4" font-size="5.4" class="xl" text-anchor="middle">+/+</text>
<text x="331" y="688.4" font-size="5.4" class="xl" text-anchor="middle">+/-</text>
<text x="346.8" y="688.4" font-size="5.4" class="xl" text-anchor="middle">-/-</text>
<text transform="translate(291.62,645.9) rotate(-90)" font-size="6.048" class="yl" text-anchor="middle">% of <tspan font-style="italic">Mysm1-/-</tspan> cells</text>
<text x="304.2" y="697.5" font-size="6.6" class="b" textLength="52.8" lengthAdjust="spacingAndGlyphs">KLS CD150<tspan font-size="4" dy="-2.4">-</tspan><tspan dy="2.4">CD48</tspan><tspan font-size="4" dy="-2.4">-</tspan></text>
<path d="M382.2 606.8L382.2 680.9L430.1 680.9" stroke="#000" stroke-width="1.0924999999999998" fill="none"/>
<path d="M380 680.9L382.2 680.9" stroke="#000" stroke-width="0.9"/>
<text x="379.8" y="683.06" font-size="6.0" class="tk" text-anchor="end">0</text>
<path d="M380 666.18L382.2 666.18" stroke="#000" stroke-width="0.9"/>
<text x="379.8" y="668.34" font-size="6.0" class="tk" text-anchor="end">20</text>
<path d="M380 651.46L382.2 651.46" stroke="#000" stroke-width="0.9"/>
<text x="379.8" y="653.62" font-size="6.0" class="tk" text-anchor="end">40</text>
<path d="M380 636.74L382.2 636.74" stroke="#000" stroke-width="0.9"/>
<text x="379.8" y="638.9" font-size="6.0" class="tk" text-anchor="end">60</text>
<path d="M380 622.02L382.2 622.02" stroke="#000" stroke-width="0.9"/>
<text x="379.8" y="624.18" font-size="6.0" class="tk" text-anchor="end">80</text>
<path d="M380 607.3L382.2 607.3" stroke="#000" stroke-width="0.9"/>
<text x="379.8" y="609.46" font-size="6.0" class="tk" text-anchor="end">100</text>
<rect x="385.68" y="678.3" width="10.05" height="2.6" fill="#fff" stroke="#000" stroke-width="1.15"/>
<path d="M390.7 680.9L390.7 682.9" stroke="#000" stroke-width="0.9"/>
<path d="M390.7 677.6L390.7 679" stroke="#000" stroke-width="1.15"/>
<path d="M387.34 677.6L394.06 677.6" stroke="#000" stroke-width="1.15"/>
<path d="M387.34 679L394.06 679" stroke="#000" stroke-width="1.15"/>
<rect x="401.77" y="655.2" width="10.05" height="25.7" fill="#fff" stroke="#000" stroke-width="1.15"/>
<path d="M406.8 680.9L406.8 682.9" stroke="#000" stroke-width="0.9"/>
<path d="M406.8 650.6L406.8 660.1" stroke="#000" stroke-width="1.15"/>
<path d="M403.44 650.6L410.16 650.6" stroke="#000" stroke-width="1.15"/>
<path d="M403.44 660.1L410.16 660.1" stroke="#000" stroke-width="1.15"/>
<rect x="418.07" y="619.9" width="10.25" height="61" fill="#fff" stroke="#000" stroke-width="1.15"/>
<path d="M423.2 680.9L423.2 682.9" stroke="#000" stroke-width="0.9"/>
<path d="M423.2 613L423.2 626.9" stroke="#000" stroke-width="1.15"/>
<path d="M419.78 613L426.62 613" stroke="#000" stroke-width="1.15"/>
<path d="M419.78 626.9L426.62 626.9" stroke="#000" stroke-width="1.15"/>
<text x="384.6" y="607.3" font-size="7.0" class="b">HPC1</text>
<text x="366.9" y="687.5" font-size="6.0" class="bi">p53:</text>
<text x="390.7" y="687.5" font-size="5.4" class="xl" text-anchor="middle">+/+</text>
<text x="406.8" y="687.5" font-size="5.4" class="xl" text-anchor="middle">+/-</text>
<text x="423.2" y="687.5" font-size="5.4" class="xl" text-anchor="middle">-/-</text>
<text transform="translate(366.92,643.7) rotate(-90)" font-size="6.048" class="yl" text-anchor="middle">% of <tspan font-style="italic">Mysm1-/-</tspan> cells</text>
<text x="379.9" y="697.5" font-size="6.6" class="b" textLength="56.3" lengthAdjust="spacingAndGlyphs">KLS CD150<tspan font-size="4" dy="-2.4">-</tspan><tspan dy="2.4">CD48</tspan><tspan font-size="4" dy="-2.4">+</tspan></text>
<path d="M464.6 606.8L464.6 680.9L513.1 680.9" stroke="#000" stroke-width="1.0924999999999998" fill="none"/>
<path d="M462.4 680.9L464.6 680.9" stroke="#000" stroke-width="0.9"/>
<text x="462.2" y="683.06" font-size="6.0" class="tk" text-anchor="end">0</text>
<path d="M462.4 666.18L464.6 666.18" stroke="#000" stroke-width="0.9"/>
<text x="462.2" y="668.34" font-size="6.0" class="tk" text-anchor="end">20</text>
<path d="M462.4 651.46L464.6 651.46" stroke="#000" stroke-width="0.9"/>
<text x="462.2" y="653.62" font-size="6.0" class="tk" text-anchor="end">40</text>
<path d="M462.4 636.74L464.6 636.74" stroke="#000" stroke-width="0.9"/>
<text x="462.2" y="638.9" font-size="6.0" class="tk" text-anchor="end">60</text>
<path d="M462.4 622.02L464.6 622.02" stroke="#000" stroke-width="0.9"/>
<text x="462.2" y="624.18" font-size="6.0" class="tk" text-anchor="end">80</text>
<path d="M462.4 607.3L464.6 607.3" stroke="#000" stroke-width="0.9"/>
<text x="462.2" y="609.46" font-size="6.0" class="tk" text-anchor="end">100</text>
<rect x="467.77" y="675.7" width="10.45" height="5.2" fill="#fff" stroke="#000" stroke-width="1.15"/>
<path d="M473 680.9L473 682.9" stroke="#000" stroke-width="0.9"/>
<path d="M473 673.6L473 677" stroke="#000" stroke-width="1.15"/>
<path d="M469.52 673.6L476.48 673.6" stroke="#000" stroke-width="1.15"/>
<path d="M469.52 677L476.48 677" stroke="#000" stroke-width="1.15"/>
<rect x="483.68" y="657.5" width="10.35" height="23.4" fill="#fff" stroke="#000" stroke-width="1.15"/>
<path d="M488.85 680.9L488.85 682.9" stroke="#000" stroke-width="0.9"/>
<path d="M488.85 652.8L488.85 662.7" stroke="#000" stroke-width="1.15"/>
<path d="M485.4 652.8L492.3 652.8" stroke="#000" stroke-width="1.15"/>
<path d="M485.4 662.7L492.3 662.7" stroke="#000" stroke-width="1.15"/>
<rect x="500.27" y="620.8" width="10.45" height="60.1" fill="#fff" stroke="#000" stroke-width="1.15"/>
<path d="M505.5 680.9L505.5 682.9" stroke="#000" stroke-width="0.9"/>
<path d="M505.5 616L505.5 626.3" stroke="#000" stroke-width="1.15"/>
<path d="M502.02 616L508.98 616" stroke="#000" stroke-width="1.15"/>
<path d="M502.02 626.3L508.98 626.3" stroke="#000" stroke-width="1.15"/>
<text x="466.7" y="607.3" font-size="7.0" class="b">HPC2</text>
<text x="454.2" y="687.5" font-size="6.0" class="bi">p53:</text>
<text x="473" y="687.5" font-size="5.4" class="xl" text-anchor="middle">+/+</text>
<text x="488.9" y="687.5" font-size="5.4" class="xl" text-anchor="middle">+/-</text>
<text x="505.5" y="687.5" font-size="5.4" class="xl" text-anchor="middle">-/-</text>
<text transform="translate(449.42,644.1) rotate(-90)" font-size="6.048" class="yl" text-anchor="middle">% of <tspan font-style="italic">Mysm1-/-</tspan> cells</text>
<text x="462" y="697.5" font-size="6.6" class="b" textLength="57.1" lengthAdjust="spacingAndGlyphs">KLS CD150<tspan font-size="4" dy="-2.4">+</tspan><tspan dy="2.4">CD48</tspan><tspan font-size="4" dy="-2.4">+</tspan></text>
</g>
</svg>
</body></html>
